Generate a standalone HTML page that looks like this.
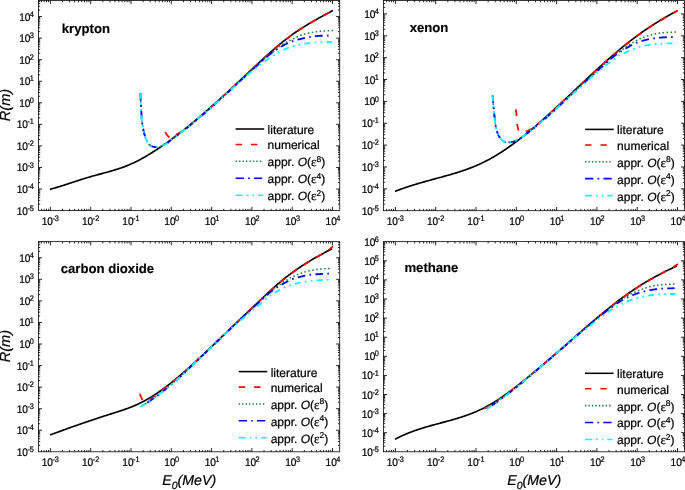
<!DOCTYPE html>
<html><head><meta charset="utf-8"><title>Range vs energy</title>
<style>
html,body{margin:0;padding:0;background:#fff;}
body{width:685px;height:490px;overflow:hidden;font-family:"Liberation Sans",sans-serif;}
svg{display:block;will-change:transform;}
text{font-family:"Liberation Sans",sans-serif;fill:#000;text-rendering:geometricPrecision;stroke:#000;stroke-width:0.22px;}
.tk{font-size:10.1px;}
.sp{font-size:7.3px;}
.tt{font-size:13.15px;font-weight:bold;stroke-width:0.15px;}
.lg{font-size:12px;}
.ls{font-size:8.5px;}
.it{font-style:italic;}
.ep{font-family:"Liberation Serif",serif;font-size:13px;}
.ax{font-size:14.2px;font-style:italic;}
.ay{font-size:14.6px;}
.sb{font-size:10.5px;}
.cv{fill:none;stroke-linecap:butt;stroke-linejoin:round;}
</style></head><body>
<svg width="685" height="490" viewBox="0 0 685 490">
<rect width="685" height="490" fill="#fff"/>
<g>
<g id="kr">
<path d="M41.46 210.60v-1.8M41.46 0.45v1.8M44.16 210.60v-1.8M44.16 0.45v1.8M46.49 210.60v-1.8M46.49 0.45v1.8M48.56 210.60v-1.8M48.56 0.45v1.8M50.40 210.60v-3.7M50.40 0.45v3.7M62.53 210.60v-1.8M62.53 0.45v1.8M69.63 210.60v-1.8M69.63 0.45v1.8M74.66 210.60v-1.8M74.66 0.45v1.8M78.57 210.60v-1.8M78.57 0.45v1.8M81.76 210.60v-1.8M81.76 0.45v1.8M84.46 210.60v-1.8M84.46 0.45v1.8M86.79 210.60v-1.8M86.79 0.45v1.8M88.86 210.60v-1.8M88.86 0.45v1.8M90.70 210.60v-3.7M90.70 0.45v3.7M102.83 210.60v-1.8M102.83 0.45v1.8M109.93 210.60v-1.8M109.93 0.45v1.8M114.96 210.60v-1.8M114.96 0.45v1.8M118.87 210.60v-1.8M118.87 0.45v1.8M122.06 210.60v-1.8M122.06 0.45v1.8M124.76 210.60v-1.8M124.76 0.45v1.8M127.09 210.60v-1.8M127.09 0.45v1.8M129.16 210.60v-1.8M129.16 0.45v1.8M131.00 210.60v-3.7M131.00 0.45v3.7M143.13 210.60v-1.8M143.13 0.45v1.8M150.23 210.60v-1.8M150.23 0.45v1.8M155.26 210.60v-1.8M155.26 0.45v1.8M159.17 210.60v-1.8M159.17 0.45v1.8M162.36 210.60v-1.8M162.36 0.45v1.8M165.06 210.60v-1.8M165.06 0.45v1.8M167.39 210.60v-1.8M167.39 0.45v1.8M169.46 210.60v-1.8M169.46 0.45v1.8M171.30 210.60v-3.7M171.30 0.45v3.7M183.43 210.60v-1.8M183.43 0.45v1.8M190.53 210.60v-1.8M190.53 0.45v1.8M195.56 210.60v-1.8M195.56 0.45v1.8M199.47 210.60v-1.8M199.47 0.45v1.8M202.66 210.60v-1.8M202.66 0.45v1.8M205.36 210.60v-1.8M205.36 0.45v1.8M207.69 210.60v-1.8M207.69 0.45v1.8M209.76 210.60v-1.8M209.76 0.45v1.8M211.60 210.60v-3.7M211.60 0.45v3.7M223.73 210.60v-1.8M223.73 0.45v1.8M230.83 210.60v-1.8M230.83 0.45v1.8M235.86 210.60v-1.8M235.86 0.45v1.8M239.77 210.60v-1.8M239.77 0.45v1.8M242.96 210.60v-1.8M242.96 0.45v1.8M245.66 210.60v-1.8M245.66 0.45v1.8M247.99 210.60v-1.8M247.99 0.45v1.8M250.06 210.60v-1.8M250.06 0.45v1.8M251.90 210.60v-3.7M251.90 0.45v3.7M264.03 210.60v-1.8M264.03 0.45v1.8M271.13 210.60v-1.8M271.13 0.45v1.8M276.16 210.60v-1.8M276.16 0.45v1.8M280.07 210.60v-1.8M280.07 0.45v1.8M283.26 210.60v-1.8M283.26 0.45v1.8M285.96 210.60v-1.8M285.96 0.45v1.8M288.29 210.60v-1.8M288.29 0.45v1.8M290.36 210.60v-1.8M290.36 0.45v1.8M292.20 210.60v-3.7M292.20 0.45v3.7M304.33 210.60v-1.8M304.33 0.45v1.8M311.43 210.60v-1.8M311.43 0.45v1.8M316.46 210.60v-1.8M316.46 0.45v1.8M320.37 210.60v-1.8M320.37 0.45v1.8M323.56 210.60v-1.8M323.56 0.45v1.8M326.26 210.60v-1.8M326.26 0.45v1.8M328.59 210.60v-1.8M328.59 0.45v1.8M330.66 210.60v-1.8M330.66 0.45v1.8M332.50 210.60v-3.7M332.50 0.45v3.7M38.40 204.11h1.8M339.75 204.11h-1.8M38.40 200.31h1.8M339.75 200.31h-1.8M38.40 197.62h1.8M339.75 197.62h-1.8M38.40 195.53h1.8M339.75 195.53h-1.8M38.40 193.82h1.8M339.75 193.82h-1.8M38.40 192.38h1.8M339.75 192.38h-1.8M38.40 191.13h1.8M339.75 191.13h-1.8M38.40 190.03h1.8M339.75 190.03h-1.8M38.40 189.04h3.6M339.75 189.04h-3.6M38.40 182.55h1.8M339.75 182.55h-1.8M38.40 178.75h1.8M339.75 178.75h-1.8M38.40 176.06h1.8M339.75 176.06h-1.8M38.40 173.97h1.8M339.75 173.97h-1.8M38.40 172.26h1.8M339.75 172.26h-1.8M38.40 170.82h1.8M339.75 170.82h-1.8M38.40 169.57h1.8M339.75 169.57h-1.8M38.40 168.47h1.8M339.75 168.47h-1.8M38.40 167.48h3.6M339.75 167.48h-3.6M38.40 160.99h1.8M339.75 160.99h-1.8M38.40 157.19h1.8M339.75 157.19h-1.8M38.40 154.50h1.8M339.75 154.50h-1.8M38.40 152.41h1.8M339.75 152.41h-1.8M38.40 150.70h1.8M339.75 150.70h-1.8M38.40 149.26h1.8M339.75 149.26h-1.8M38.40 148.01h1.8M339.75 148.01h-1.8M38.40 146.91h1.8M339.75 146.91h-1.8M38.40 145.92h3.6M339.75 145.92h-3.6M38.40 139.43h1.8M339.75 139.43h-1.8M38.40 135.63h1.8M339.75 135.63h-1.8M38.40 132.94h1.8M339.75 132.94h-1.8M38.40 130.85h1.8M339.75 130.85h-1.8M38.40 129.14h1.8M339.75 129.14h-1.8M38.40 127.70h1.8M339.75 127.70h-1.8M38.40 126.45h1.8M339.75 126.45h-1.8M38.40 125.35h1.8M339.75 125.35h-1.8M38.40 124.36h3.6M339.75 124.36h-3.6M38.40 117.87h1.8M339.75 117.87h-1.8M38.40 114.07h1.8M339.75 114.07h-1.8M38.40 111.38h1.8M339.75 111.38h-1.8M38.40 109.29h1.8M339.75 109.29h-1.8M38.40 107.58h1.8M339.75 107.58h-1.8M38.40 106.14h1.8M339.75 106.14h-1.8M38.40 104.89h1.8M339.75 104.89h-1.8M38.40 103.79h1.8M339.75 103.79h-1.8M38.40 102.80h3.6M339.75 102.80h-3.6M38.40 96.31h1.8M339.75 96.31h-1.8M38.40 92.51h1.8M339.75 92.51h-1.8M38.40 89.82h1.8M339.75 89.82h-1.8M38.40 87.73h1.8M339.75 87.73h-1.8M38.40 86.02h1.8M339.75 86.02h-1.8M38.40 84.58h1.8M339.75 84.58h-1.8M38.40 83.33h1.8M339.75 83.33h-1.8M38.40 82.23h1.8M339.75 82.23h-1.8M38.40 81.24h3.6M339.75 81.24h-3.6M38.40 74.75h1.8M339.75 74.75h-1.8M38.40 70.95h1.8M339.75 70.95h-1.8M38.40 68.26h1.8M339.75 68.26h-1.8M38.40 66.17h1.8M339.75 66.17h-1.8M38.40 64.46h1.8M339.75 64.46h-1.8M38.40 63.02h1.8M339.75 63.02h-1.8M38.40 61.77h1.8M339.75 61.77h-1.8M38.40 60.67h1.8M339.75 60.67h-1.8M38.40 59.68h3.6M339.75 59.68h-3.6M38.40 53.19h1.8M339.75 53.19h-1.8M38.40 49.39h1.8M339.75 49.39h-1.8M38.40 46.70h1.8M339.75 46.70h-1.8M38.40 44.61h1.8M339.75 44.61h-1.8M38.40 42.90h1.8M339.75 42.90h-1.8M38.40 41.46h1.8M339.75 41.46h-1.8M38.40 40.21h1.8M339.75 40.21h-1.8M38.40 39.11h1.8M339.75 39.11h-1.8M38.40 38.12h3.6M339.75 38.12h-3.6M38.40 31.63h1.8M339.75 31.63h-1.8M38.40 27.83h1.8M339.75 27.83h-1.8M38.40 25.14h1.8M339.75 25.14h-1.8M38.40 23.05h1.8M339.75 23.05h-1.8M38.40 21.34h1.8M339.75 21.34h-1.8M38.40 19.90h1.8M339.75 19.90h-1.8M38.40 18.65h1.8M339.75 18.65h-1.8M38.40 17.55h1.8M339.75 17.55h-1.8M38.40 16.56h3.6M339.75 16.56h-3.6M38.40 10.07h1.8M339.75 10.07h-1.8M38.40 6.27h1.8M339.75 6.27h-1.8M38.40 3.58h1.8M339.75 3.58h-1.8M38.40 1.49h1.8M339.75 1.49h-1.8" stroke="#000" stroke-width="0.85" fill="none"/>
<rect x="38.40" y="0.45" width="301.35" height="210.15" fill="none" stroke="#000" stroke-width="0.78"/>
<text transform="translate(50.30 225.05) scale(1 1.09)" text-anchor="middle" class="tk">10<tspan class="sp" dy="-3.55" dx="-0.5">-3</tspan></text>
<text transform="translate(90.60 225.05) scale(1 1.09)" text-anchor="middle" class="tk">10<tspan class="sp" dy="-3.55" dx="-0.5">-2</tspan></text>
<text transform="translate(130.90 225.05) scale(1 1.09)" text-anchor="middle" class="tk">10<tspan class="sp" dy="-3.55" dx="-0.5">-1</tspan></text>
<text transform="translate(171.70 225.05) scale(1 1.09)" text-anchor="middle" class="tk">10<tspan class="sp" dy="-3.55" dx="-0.6">0</tspan></text>
<text transform="translate(212.00 225.05) scale(1 1.09)" text-anchor="middle" class="tk">10<tspan class="sp" dy="-3.55" dx="-0.6">1</tspan></text>
<text transform="translate(252.30 225.05) scale(1 1.09)" text-anchor="middle" class="tk">10<tspan class="sp" dy="-3.55" dx="-0.6">2</tspan></text>
<text transform="translate(292.60 225.05) scale(1 1.09)" text-anchor="middle" class="tk">10<tspan class="sp" dy="-3.55" dx="-0.6">3</tspan></text>
<text transform="translate(332.90 225.05) scale(1 1.09)" text-anchor="middle" class="tk">10<tspan class="sp" dy="-3.55" dx="-0.6">4</tspan></text>
<text transform="translate(33.90 214.60) scale(1 1.09)" text-anchor="end" class="tk">10<tspan class="sp" dy="-3.55" dx="-0.5">-5</tspan></text>
<text transform="translate(33.90 193.04) scale(1 1.09)" text-anchor="end" class="tk">10<tspan class="sp" dy="-3.55" dx="-0.5">-4</tspan></text>
<text transform="translate(33.90 171.48) scale(1 1.09)" text-anchor="end" class="tk">10<tspan class="sp" dy="-3.55" dx="-0.5">-3</tspan></text>
<text transform="translate(33.90 149.92) scale(1 1.09)" text-anchor="end" class="tk">10<tspan class="sp" dy="-3.55" dx="-0.5">-2</tspan></text>
<text transform="translate(33.90 128.36) scale(1 1.09)" text-anchor="end" class="tk">10<tspan class="sp" dy="-3.55" dx="-0.5">-1</tspan></text>
<text transform="translate(33.90 106.80) scale(1 1.09)" text-anchor="end" class="tk">10<tspan class="sp" dy="-3.55" dx="-0.6">0</tspan></text>
<text transform="translate(33.90 85.24) scale(1 1.09)" text-anchor="end" class="tk">10<tspan class="sp" dy="-3.55" dx="-0.6">1</tspan></text>
<text transform="translate(33.90 63.68) scale(1 1.09)" text-anchor="end" class="tk">10<tspan class="sp" dy="-3.55" dx="-0.6">2</tspan></text>
<text transform="translate(33.90 42.12) scale(1 1.09)" text-anchor="end" class="tk">10<tspan class="sp" dy="-3.55" dx="-0.6">3</tspan></text>
<text transform="translate(33.90 20.56) scale(1 1.09)" text-anchor="end" class="tk">10<tspan class="sp" dy="-3.55" dx="-0.6">4</tspan></text>
<path d="M49.90 189.37L50.90 189.09L51.90 188.82L52.90 188.53L53.90 188.24L54.90 187.95L55.90 187.66L56.90 187.36L57.90 187.05L58.90 186.75L59.90 186.44L60.90 186.13L61.90 185.81L62.90 185.49L63.90 185.17L64.90 184.85L65.90 184.53L66.90 184.21L67.90 183.88L68.90 183.55L69.90 183.23L70.90 182.90L71.90 182.57L72.90 182.24L73.90 181.92L74.90 181.59L75.90 181.26L76.90 180.94L77.90 180.61L78.90 180.29L79.90 179.97L80.90 179.65L81.90 179.33L82.90 179.01L83.90 178.70L84.90 178.39L85.90 178.08L86.90 177.78L87.90 177.48L88.90 177.18L89.90 176.89L90.90 176.60L91.90 176.31L92.90 176.03L93.90 175.75L94.90 175.47L95.90 175.20L96.90 174.93L97.90 174.66L98.90 174.39L99.90 174.12L100.90 173.85L101.90 173.58L102.90 173.31L103.90 173.04L104.90 172.77L105.90 172.50L106.90 172.22L107.90 171.95L108.90 171.67L109.90 171.39L110.90 171.10L111.90 170.81L112.90 170.52L113.90 170.22L114.90 169.91L115.90 169.60L116.90 169.29L117.90 168.97L118.90 168.64L119.90 168.31L120.90 167.97L121.90 167.62L122.90 167.26L123.90 166.89L124.90 166.52L125.90 166.14L126.90 165.74L127.90 165.34L128.90 164.92L129.90 164.50L130.90 164.07L131.90 163.62L132.90 163.16L133.90 162.69L134.90 162.22L135.90 161.73L136.90 161.23L137.90 160.72L138.90 160.20L139.90 159.68L140.90 159.14L141.90 158.60L142.90 158.04L143.90 157.48L144.90 156.91L145.90 156.33L146.90 155.74L147.90 155.15L148.90 154.54L149.90 153.93L150.90 153.32L151.90 152.69L152.90 152.06L153.90 151.42L154.90 150.78L155.90 150.13L156.90 149.47L157.90 148.81L158.90 148.14L159.90 147.47L160.90 146.79L161.90 146.10L162.90 145.41L163.90 144.72L164.90 144.02L165.90 143.32L166.90 142.61L167.90 141.89L168.90 141.17L169.90 140.45L170.90 139.72L171.90 138.98L172.90 138.25L173.90 137.50L174.90 136.75L175.90 136.00L176.90 135.25L177.90 134.48L178.90 133.72L179.90 132.95L180.90 132.17L181.90 131.39L182.90 130.61L183.90 129.82L184.90 129.03L185.90 128.24L186.90 127.44L187.90 126.64L188.90 125.83L189.90 125.02L190.90 124.20L191.90 123.38L192.90 122.56L193.90 121.73L194.90 120.90L195.90 120.07L196.90 119.23L197.90 118.39L198.90 117.55L199.90 116.70L200.90 115.85L201.90 115.00L202.90 114.14L203.90 113.28L204.90 112.41L205.90 111.55L206.90 110.68L207.90 109.80L208.90 108.93L209.90 108.05L210.90 107.17L211.90 106.28L212.90 105.39L213.90 104.50L214.90 103.61L215.90 102.72L216.90 101.82L217.90 100.92L218.90 100.01L219.90 99.11L220.90 98.20L221.90 97.29L222.90 96.38L223.90 95.46L224.90 94.54L225.90 93.62L226.90 92.70L227.90 91.78L228.90 90.85L229.90 89.92L230.90 89.00L231.90 88.06L232.90 87.13L233.90 86.20L234.90 85.26L235.90 84.32L236.90 83.39L237.90 82.45L238.90 81.51L239.90 80.57L240.90 79.63L241.90 78.69L242.90 77.75L243.90 76.81L244.90 75.87L245.90 74.92L246.90 73.99L247.90 73.05L248.90 72.11L249.90 71.17L250.90 70.23L251.90 69.30L252.90 68.36L253.90 67.43L254.90 66.50L255.90 65.57L256.90 64.64L257.90 63.71L258.90 62.79L259.90 61.87L260.90 60.95L261.90 60.03L262.90 59.12L263.90 58.21L264.90 57.30L265.90 56.40L266.90 55.50L267.90 54.60L268.90 53.70L269.90 52.81L270.90 51.93L271.90 51.04L272.90 50.17L273.90 49.29L274.90 48.43L275.90 47.57L276.90 46.71L277.90 45.86L278.90 45.02L279.90 44.19L280.90 43.36L281.90 42.54L282.90 41.73L283.90 40.92L284.90 40.13L285.90 39.34L286.90 38.57L287.90 37.80L288.90 37.05L289.90 36.30L290.90 35.57L291.90 34.84L292.90 34.13L293.90 33.42L294.90 32.72L295.90 32.04L296.90 31.36L297.90 30.69L298.90 30.03L299.90 29.37L300.90 28.73L301.90 28.09L302.90 27.45L303.90 26.83L304.90 26.21L305.90 25.60L306.90 24.99L307.90 24.39L308.90 23.79L309.90 23.20L310.90 22.61L311.90 22.02L312.90 21.44L313.90 20.87L314.90 20.30L315.90 19.73L316.90 19.16L317.90 18.60L318.90 18.04L319.90 17.49L320.90 16.94L321.90 16.39L322.90 15.85L323.90 15.31L324.90 14.77L325.90 14.23L326.90 13.70L327.90 13.17L328.90 12.65L329.90 12.12L330.90 11.60L331.90 11.09L332.90 10.57" class="cv" stroke="#000000" stroke-width="1.65"/>
<path d="M165.30 132.10L165.65 132.78L166.03 133.43L166.44 134.05L166.87 134.66L167.32 135.24L167.79 135.80L168.27 136.34L168.77 136.87L169.29 137.45L169.86 138.03L170.47 138.30L171.13 138.17L171.84 137.85L172.52 137.49L173.13 137.11L173.72 136.67L174.30 136.19L174.88 135.73L175.48 135.31L176.10 134.90L176.71 134.50L177.34 134.10L177.96 133.71L178.59 133.33L179.22 132.95L179.86 132.58L180.51 132.22L181.16 131.87L181.80 131.50L182.41 131.10L182.99 130.65L183.57 130.19L184.15 129.73L184.72 129.27L185.30 128.82L186.30 128.02L187.30 127.22L188.30 126.41L189.30 125.60L190.30 124.79L191.30 123.97L192.30 123.15L193.30 122.33L194.30 121.50L195.30 120.67L196.30 119.84L197.30 119.00L198.30 118.16L199.30 117.31L200.30 116.46L201.30 115.61L202.30 114.75L203.30 113.89L204.30 113.03L205.30 112.17L206.30 111.30L207.30 110.43L208.30 109.55L209.30 108.68L210.30 107.80L211.30 106.91L212.30 106.03L213.30 105.14L214.30 104.25L215.30 103.35L216.30 102.46L217.30 101.56L218.30 100.66L219.30 99.75L220.30 98.84L221.30 97.94L222.30 97.02L223.30 96.11L224.30 95.19L225.30 94.28L226.30 93.36L227.30 92.43L228.30 91.51L229.30 90.58L230.30 89.65L231.30 88.72L232.30 87.79L233.30 86.86L234.30 85.92L235.30 84.99L236.30 84.05L237.30 83.11L238.30 82.17L239.30 81.23L240.30 80.29L241.30 79.35L242.30 78.41L243.30 77.47L244.30 76.53L245.30 75.59L246.30 74.65L247.30 73.71L248.30 72.77L249.30 71.83" class="cv" stroke="#ff0000" stroke-width="1.75" stroke-dasharray="6.8 7.8"/>
<path d="M333.00 10.62L332.07 11.10L331.15 11.57L330.22 12.06L329.30 12.54L328.30 13.06L327.30 13.59L326.30 14.12L325.30 14.66L324.30 15.19L323.30 15.73L322.30 16.27L321.30 16.82L320.30 17.37L319.30 17.92L318.30 18.48L317.30 19.04L316.30 19.60L315.30 20.17L314.30 20.74L313.30 21.31L312.30 21.89L311.30 22.47L310.30 23.06L309.30 23.65L308.30 24.25L307.30 24.85L306.30 25.45L305.30 26.06L304.30 26.68L303.30 27.30L302.30 27.93L301.30 28.57L300.30 29.21L299.30 29.86L298.30 30.52L297.30 31.19L296.30 31.87L295.30 32.55L294.30 33.24L293.30 33.94L292.30 34.65L291.30 35.37L290.30 36.11L289.30 36.85L288.30 37.60L287.30 38.36L286.30 39.13L285.30 39.91L284.30 40.71L283.30 41.50L282.30 42.31L281.30 43.13L280.30 43.95L279.30 44.79L278.30 45.62L277.30 46.47L276.30 47.32L275.30 48.18L274.30 49.05L273.30 49.92L272.30 50.79L271.30 51.67L270.30 52.56L269.30 53.45L268.30 54.34L267.30 55.24L266.30 56.14L265.30 57.04L264.30 57.95L263.30 58.86L262.30 59.77L261.30 60.68L260.30 61.60L259.30 62.52L258.30 63.45L257.30 64.37L256.30 65.30L255.30 66.23L254.30 67.16L253.30 68.09L252.30 69.02L251.30 69.96L250.30 70.89L249.30 71.83" class="cv" stroke="#ff0000" stroke-width="1.75" stroke-dasharray="6.8 7.8" stroke-dashoffset="10.0"/>
<path d="M140.40 93.10L140.43 93.81L140.45 94.52L140.48 95.23L140.51 95.94L140.54 96.65L140.57 97.36L140.60 98.07L140.63 98.77L140.66 99.48L140.69 100.19L140.72 100.90L140.76 101.61L140.79 102.32L140.83 103.03L140.86 103.74L140.90 104.45L140.93 105.15L140.97 105.86L141.01 106.57L141.05 107.28L141.10 107.99L141.14 108.70L141.18 109.41L141.23 110.12L141.27 110.82L141.31 111.53L141.36 112.24L141.40 112.95L141.44 113.66L141.47 114.37L141.51 115.08L141.54 115.79L141.58 116.50L141.61 117.21L141.65 117.91L141.70 118.62L141.75 119.33L141.80 120.04L141.87 120.74L141.95 121.44L142.05 122.15L142.15 122.85L142.27 123.55L142.38 124.25L142.50 124.95L142.62 125.65L142.74 126.35L142.87 127.05L142.99 127.75L143.13 128.45L143.27 129.15" class="cv" stroke="#1f7f3f" stroke-width="1.55" stroke-dasharray="1.55 2.45"/>
<path d="M143.27 129.15L143.41 129.84L143.55 130.54L143.71 131.23L143.86 131.92L144.02 132.61L144.19 133.31L144.36 134.00L144.54 134.69L144.72 135.37L144.92 136.05L145.13 136.72L145.36 137.40L145.60 138.07L145.85 138.74L146.12 139.40L146.40 140.05L146.70 140.69L147.01 141.32L147.34 141.97L147.70 142.61L148.08 143.24L148.49 143.82L148.94 144.34L149.42 144.80L149.98 145.24L150.59 145.65L151.24 146.01L151.89 146.30L152.55 146.50L153.23 146.70L153.93 146.87L154.64 147.00L155.35 147.08L156.05 147.10L156.76 147.07L157.48 147.02L158.19 146.94L158.89 146.86L159.58 146.75L160.26 146.57L160.92 146.32L161.58 146.02L162.23 145.71L162.88 145.41L163.52 145.11L164.17 144.80L164.80 144.48L165.43 144.14L166.05 143.79L166.65 143.42L167.24 143.04L167.82 142.64L168.39 142.23L168.96 141.79L169.51 141.34L170.05 140.88L170.58 140.40L171.19 139.83L171.81 139.37L172.43 138.91L173.05 138.46L173.67 138.01L174.30 137.57L174.92 137.12L175.54 136.67L176.16 136.21L176.77 135.74L177.39 135.28L178.00 134.82L179.00 134.05L180.00 133.29L181.00 132.52L182.00 131.74L183.00 130.96L184.00 130.18L185.00 129.39L186.00 128.60L187.00 127.80L188.00 127.01L189.00 126.20L190.00 125.39L191.00 124.58L192.00 123.77L193.00 122.95L194.00 122.13L195.00 121.30L196.00 120.47L197.00 119.64L198.00 118.80L199.00 117.96L200.00 117.12L201.00 116.27L202.00 115.42L203.00 114.57L204.00 113.71L205.00 112.85L206.00 111.99L207.00 111.12L208.00 110.26L209.00 109.38L210.00 108.51L211.00 107.63L212.00 106.75L213.00 105.87L214.00 104.99L215.00 104.10L216.00 103.20L217.00 102.31L218.00 101.41L219.00 100.51L220.00 99.61L221.00 98.70L222.00 97.79L223.00 96.88L224.00 95.97L225.00 95.05L226.00 94.13L227.00 93.21L228.00 92.29L229.00 91.36L230.00 90.43L231.00 89.50L232.00 88.57L233.00 87.64L234.00 86.70L235.00 85.77L236.00 84.83L237.00 83.89L238.00 82.95L239.00 82.01L240.00 81.07L241.00 80.13L242.00 79.19L243.00 78.25L244.00 77.31L245.00 76.37L246.00 75.43L247.00 74.49L248.00 73.55L249.00 72.61L250.00 71.68L251.00 70.75L252.00 69.82L253.00 68.90L254.00 67.98L255.00 67.07L256.00 66.17L257.00 65.27L258.00 64.38L259.00 63.49L260.00 62.60L261.00 61.72L262.00 60.85L263.00 59.98L264.00 59.12L265.00 58.28L266.00 57.44L267.00 56.62L268.00 55.81L269.00 55.02L270.00 54.26L271.00 53.54L272.00 52.86L273.00 52.18L274.00 51.46L275.00 50.68L276.00 49.83L277.00 48.94L278.00 48.05L279.00 47.18L280.00 46.32L281.00 45.50L282.00 44.74L283.00 44.06L284.00 43.46L285.00 42.91L286.00 42.38L287.00 41.86L288.00 41.35L289.00 40.85L290.00 40.35L291.00 39.87L292.00 39.38L293.00 38.89L294.00 38.40L295.00 37.92L296.00 37.44L297.00 36.97L298.00 36.51L299.00 36.06L300.00 35.64L301.00 35.23L302.00 34.86L303.00 34.50L304.00 34.18L305.00 33.88L306.00 33.60L307.00 33.36L308.00 33.14L309.00 32.94L310.00 32.76L311.00 32.59L312.00 32.42L313.00 32.25L314.00 32.07L315.00 31.90L316.00 31.75L317.00 31.61L318.00 31.50L319.00 31.41L320.00 31.32L321.00 31.24L322.00 31.16L323.00 31.08L324.00 31.02L325.00 30.96L326.00 30.91L327.00 30.86L328.00 30.81L329.00 30.76L330.00 30.71L331.00 30.66L332.00 30.57L333.00 30.37" class="cv" stroke="#1f7f3f" stroke-width="1.55" stroke-dasharray="1.55 2.45" stroke-dashoffset="0.13"/>
<path d="M140.40 93.10L140.43 93.81L140.45 94.52L140.48 95.23L140.51 95.94L140.54 96.65L140.57 97.36L140.60 98.07L140.63 98.77L140.66 99.48L140.69 100.19L140.72 100.90L140.76 101.61L140.79 102.32L140.83 103.03L140.86 103.74L140.90 104.45L140.93 105.15L140.97 105.86L141.01 106.57L141.05 107.28L141.10 107.99L141.14 108.70L141.18 109.41L141.23 110.12L141.27 110.82L141.31 111.53L141.36 112.24L141.40 112.95L141.44 113.66L141.47 114.37L141.51 115.08L141.54 115.79L141.58 116.50L141.61 117.21L141.65 117.91L141.70 118.62L141.75 119.33L141.80 120.04L141.87 120.74L141.95 121.44L142.05 122.15L142.15 122.85L142.27 123.55L142.38 124.25L142.50 124.95L142.62 125.65L142.74 126.35L142.87 127.05L142.99 127.75L143.13 128.45L143.27 129.15L143.41 129.84L143.55 130.54L143.71 131.23L143.86 131.92L144.02 132.61L144.19 133.31L144.36 134.00L144.54 134.69L144.72 135.37L144.92 136.05L145.13 136.72L145.36 137.40L145.60 138.07L145.85 138.74L146.12 139.40L146.40 140.05L146.70 140.69L147.01 141.32L147.34 141.97L147.70 142.61L148.08 143.24L148.49 143.82L148.94 144.34L149.42 144.80L149.98 145.24L150.59 145.65L151.24 146.01L151.89 146.30L152.55 146.50L153.23 146.70L153.93 146.87L154.64 147.00L155.35 147.08L156.05 147.10L156.76 147.07L157.48 147.02L158.19 146.94L158.89 146.86L159.58 146.75L160.26 146.57L160.92 146.32L161.58 146.02L162.23 145.71L162.88 145.41L163.52 145.11L164.17 144.80L164.80 144.48L165.43 144.14L166.05 143.79L166.65 143.42L167.24 143.04L167.82 142.64L168.39 142.23L168.96 141.79L169.51 141.34L170.05 140.88L170.58 140.40L171.19 139.83L171.81 139.37L172.43 138.91L173.05 138.46L173.67 138.01L174.30 137.57L174.92 137.12L175.54 136.67" class="cv" stroke="#0000ff" stroke-width="1.8" stroke-dasharray="7.7 4.3 1.6 4.3"/>
<path d="M175.54 136.67L176.16 136.21L176.77 135.74L177.39 135.28L178.00 134.82L179.00 134.05L180.00 133.29L181.00 132.52L182.00 131.74L183.00 130.96L184.00 130.18L185.00 129.39L186.00 128.60L187.00 127.80L188.00 127.01L189.00 126.20L190.00 125.39L191.00 124.58L192.00 123.77L193.00 122.95L194.00 122.13L195.00 121.30L196.00 120.47L197.00 119.64L198.00 118.80L199.00 117.96L200.00 117.12L201.00 116.27L202.00 115.42L203.00 114.56L204.00 113.71L205.00 112.85L206.00 111.98L207.00 111.12L208.00 110.25L209.00 109.38L210.00 108.50L211.00 107.62L212.00 106.74L213.00 105.86L214.00 104.97L215.00 104.08L216.00 103.19L217.00 102.29L218.00 101.40L219.00 100.50L220.00 99.60L221.00 98.69L222.00 97.78L223.00 96.88L224.00 95.96L225.00 95.05L226.00 94.14L227.00 93.22L228.00 92.30L229.00 91.38L230.00 90.45L231.00 89.53L232.00 88.60L233.00 87.67L234.00 86.74L235.00 85.81L236.00 84.87L237.00 83.94L238.00 83.01L239.00 82.07L240.00 81.14L241.00 80.20L242.00 79.27L243.00 78.34L244.00 77.40L245.00 76.47L246.00 75.55L247.00 74.62L248.00 73.71L249.00 72.79L250.00 71.89L251.00 70.98L252.00 70.08L253.00 69.19L254.00 68.30L255.00 67.42L256.00 66.55L257.00 65.70L258.00 64.86L259.00 64.03L260.00 63.18L261.00 62.31L262.00 61.42L263.00 60.50L264.00 59.55L265.00 58.60L266.00 57.65L267.00 56.71L268.00 55.80L269.00 54.94L270.00 54.14L271.00 53.40L272.00 52.71L273.00 52.04L274.00 51.38L275.00 50.72L276.00 50.06L277.00 49.39L278.00 48.73L279.00 48.09L280.00 47.45L281.00 46.83L282.00 46.23L283.00 45.65L284.00 45.09L285.00 44.55L286.00 44.04L287.00 43.56L288.00 43.10L289.00 42.65L290.00 42.23L291.00 41.82L292.00 41.44L293.00 41.08L294.00 40.73L295.00 40.41L296.00 40.11L297.00 39.82L298.00 39.55L299.00 39.28L300.00 39.02L301.00 38.78L302.00 38.53L303.00 38.30L304.00 38.08L305.00 37.86L306.00 37.66L307.00 37.46L308.00 37.28L309.00 37.10L310.00 36.94L311.00 36.78L312.00 36.64L313.00 36.50L314.00 36.38L315.00 36.26L316.00 36.15L317.00 36.05L318.00 35.96L319.00 35.88L320.00 35.82L321.00 35.77L322.00 35.73L323.00 35.70L324.00 35.67L325.00 35.65L326.00 35.63L327.00 35.62L328.00 35.59L329.00 35.57L330.00 35.55L331.00 35.47L332.00 35.29" class="cv" stroke="#0000ff" stroke-width="1.8" stroke-dasharray="7.7 4.3 1.6 4.3" stroke-dashoffset="4.41"/>
<path d="M140.40 93.10L140.43 93.81L140.45 94.52L140.48 95.23L140.51 95.94L140.54 96.65L140.57 97.36L140.60 98.07L140.63 98.77L140.66 99.48L140.69 100.19L140.72 100.90L140.76 101.61L140.79 102.32L140.83 103.03L140.86 103.74L140.90 104.45L140.93 105.15L140.97 105.86L141.01 106.57L141.05 107.28L141.10 107.99L141.14 108.70L141.18 109.41L141.23 110.12L141.27 110.82L141.31 111.53L141.36 112.24L141.40 112.95L141.44 113.66L141.47 114.37L141.51 115.08L141.54 115.79L141.58 116.50L141.61 117.21L141.65 117.91L141.70 118.62L141.75 119.33L141.80 120.04L141.87 120.74L141.95 121.44L142.05 122.15L142.15 122.85L142.27 123.55L142.38 124.25L142.50 124.95L142.62 125.65L142.74 126.35L142.87 127.05L142.99 127.75L143.13 128.45L143.27 129.15L143.41 129.84L143.55 130.54L143.71 131.23L143.86 131.92L144.02 132.61L144.19 133.31L144.36 134.00L144.54 134.69L144.72 135.37L144.92 136.05L145.13 136.72L145.36 137.40L145.60 138.07L145.85 138.74L146.12 139.40L146.40 140.05L146.70 140.69L147.01 141.32L147.34 141.97L147.70 142.61L148.08 143.24L148.49 143.82L148.94 144.34L149.42 144.80L149.98 145.24L150.59 145.65L151.24 146.01L151.89 146.30L152.55 146.50L153.23 146.70L153.93 146.87L154.64 147.00L155.35 147.08L156.05 147.10L156.76 147.07L157.48 147.02L158.19 146.94L158.89 146.86L159.58 146.75L160.26 146.57L160.92 146.32L161.58 146.02L162.23 145.71" class="cv" stroke="#00ffff" stroke-width="1.8" stroke-dasharray="6 4.3 1.6 4.3 1.6 4.3"/>
<path d="M162.23 145.71L162.88 145.41L163.52 145.11L164.17 144.80L164.80 144.48L165.43 144.14L166.05 143.79L166.65 143.42L167.24 143.04L167.82 142.64L168.39 142.23L168.96 141.79L169.51 141.34L170.05 140.88L170.58 140.40L171.19 139.83L171.81 139.37L172.43 138.91L173.05 138.46L173.67 138.01L174.30 137.57L174.92 137.12L175.54 136.67L176.16 136.21L176.77 135.74L177.39 135.28L178.00 134.82L179.00 134.05L180.00 133.29L181.00 132.52L182.00 131.74L183.00 130.96L184.00 130.18L185.00 129.39L186.00 128.60L187.00 127.80L188.00 127.01L189.00 126.20L190.00 125.39L191.00 124.58L192.00 123.77L193.00 122.95L194.00 122.13L195.00 121.30L196.00 120.47L197.00 119.64L198.00 118.80L199.00 117.96L200.00 117.12L201.00 116.27L202.00 115.42L203.00 114.56L204.00 113.71L205.00 112.85L206.00 111.98L207.00 111.11L208.00 110.24L209.00 109.37L210.00 108.49L211.00 107.61L212.00 106.73L213.00 105.85L214.00 104.96L215.00 104.07L216.00 103.18L217.00 102.28L218.00 101.39L219.00 100.49L220.00 99.59L221.00 98.68L222.00 97.78L223.00 96.87L224.00 95.96L225.00 95.05L226.00 94.14L227.00 93.23L228.00 92.32L229.00 91.42L230.00 90.51L231.00 89.60L232.00 88.70L233.00 87.79L234.00 86.89L235.00 85.98L236.00 85.08L237.00 84.18L238.00 83.28L239.00 82.38L240.00 81.48L241.00 80.58L242.00 79.69L243.00 78.81L244.00 77.93L245.00 77.06L246.00 76.20L247.00 75.34L248.00 74.49L249.00 73.65L250.00 72.83L251.00 72.02L252.00 71.23L253.00 70.45L254.00 69.68L255.00 68.91L256.00 68.16L257.00 67.42L258.00 66.68L259.00 65.93L260.00 65.18L261.00 64.41L262.00 63.63L263.00 62.85L264.00 62.06L265.00 61.29L266.00 60.53L267.00 59.80L268.00 59.09L269.00 58.41L270.00 57.74L271.00 57.09L272.00 56.44L273.00 55.79L274.00 55.13L275.00 54.47L276.00 53.82L277.00 53.18L278.00 52.57L279.00 52.00L280.00 51.47L281.00 50.97L282.00 50.51L283.00 50.08L284.00 49.66L285.00 49.24L286.00 48.83L287.00 48.43L288.00 48.03L289.00 47.63L290.00 47.25L291.00 46.89L292.00 46.55L293.00 46.23L294.00 45.94L295.00 45.67L296.00 45.43L297.00 45.20L298.00 44.99L299.00 44.78L300.00 44.58L301.00 44.38L302.00 44.19L303.00 44.01L304.00 43.84L305.00 43.68L306.00 43.52L307.00 43.38L308.00 43.25L309.00 43.13L310.00 43.03L311.00 42.93L312.00 42.84L313.00 42.75L314.00 42.68L315.00 42.62L316.00 42.56L317.00 42.52L318.00 42.48L319.00 42.45L320.00 42.43L321.00 42.40L322.00 42.37L323.00 42.34L324.00 42.31L325.00 42.28L326.00 42.26L327.00 42.24L328.00 42.22L329.00 42.21L330.00 42.20L331.00 42.14L332.00 41.97" class="cv" stroke="#00ffff" stroke-width="1.8" stroke-dasharray="6 4.3 1.6 4.3 1.6 4.3" stroke-dashoffset="21.99"/>
<text x="61.75" y="33.45" class="tt">krypton</text>
<path d="M235.60 129.00h28.6" stroke="#000000" stroke-width="1.55" fill="none"/>
<text x="267.60" y="133.90" class="lg">literature</text>
<path d="M235.60 144.50h27.2" stroke="#ff0000" stroke-width="1.55" fill="none" stroke-dasharray="6.4 9"/>
<text x="267.60" y="149.40" class="lg">numerical</text>
<path d="M235.60 161.30h27.2" stroke="#1f7f3f" stroke-width="1.55" fill="none" stroke-dasharray="1.4 2.05"/>
<text x="267.60" y="166.20" class="lg">appr. <tspan class="it">O</tspan>(<tspan class="ep">ε</tspan><tspan class="ls" dy="-4.4">8</tspan><tspan dy="4.4">)</tspan></text>
<path d="M235.60 178.20h27.2" stroke="#0000ff" stroke-width="1.55" fill="none" stroke-dasharray="8.3 4.2 1.6 4.2"/>
<text x="267.60" y="183.10" class="lg">appr. <tspan class="it">O</tspan>(<tspan class="ep">ε</tspan><tspan class="ls" dy="-4.4">4</tspan><tspan dy="4.4">)</tspan></text>
<path d="M235.60 195.20h27.6" stroke="#00ffff" stroke-width="1.55" fill="none" stroke-dasharray="7 4.1 1.6 4.1 1.6 4.1"/>
<text x="267.60" y="200.10" class="lg">appr. <tspan class="it">O</tspan>(<tspan class="ep">ε</tspan><tspan class="ls" dy="-4.4">2</tspan><tspan dy="4.4">)</tspan></text>
</g>
<g id="xe">
<path d="M386.46 210.70v-1.8M386.46 0.45v1.8M389.16 210.70v-1.8M389.16 0.45v1.8M391.49 210.70v-1.8M391.49 0.45v1.8M393.56 210.70v-1.8M393.56 0.45v1.8M395.40 210.70v-3.7M395.40 0.45v3.7M407.53 210.70v-1.8M407.53 0.45v1.8M414.63 210.70v-1.8M414.63 0.45v1.8M419.66 210.70v-1.8M419.66 0.45v1.8M423.57 210.70v-1.8M423.57 0.45v1.8M426.76 210.70v-1.8M426.76 0.45v1.8M429.46 210.70v-1.8M429.46 0.45v1.8M431.79 210.70v-1.8M431.79 0.45v1.8M433.86 210.70v-1.8M433.86 0.45v1.8M435.70 210.70v-3.7M435.70 0.45v3.7M447.83 210.70v-1.8M447.83 0.45v1.8M454.93 210.70v-1.8M454.93 0.45v1.8M459.96 210.70v-1.8M459.96 0.45v1.8M463.87 210.70v-1.8M463.87 0.45v1.8M467.06 210.70v-1.8M467.06 0.45v1.8M469.76 210.70v-1.8M469.76 0.45v1.8M472.09 210.70v-1.8M472.09 0.45v1.8M474.16 210.70v-1.8M474.16 0.45v1.8M476.00 210.70v-3.7M476.00 0.45v3.7M488.13 210.70v-1.8M488.13 0.45v1.8M495.23 210.70v-1.8M495.23 0.45v1.8M500.26 210.70v-1.8M500.26 0.45v1.8M504.17 210.70v-1.8M504.17 0.45v1.8M507.36 210.70v-1.8M507.36 0.45v1.8M510.06 210.70v-1.8M510.06 0.45v1.8M512.39 210.70v-1.8M512.39 0.45v1.8M514.46 210.70v-1.8M514.46 0.45v1.8M516.30 210.70v-3.7M516.30 0.45v3.7M528.43 210.70v-1.8M528.43 0.45v1.8M535.53 210.70v-1.8M535.53 0.45v1.8M540.56 210.70v-1.8M540.56 0.45v1.8M544.47 210.70v-1.8M544.47 0.45v1.8M547.66 210.70v-1.8M547.66 0.45v1.8M550.36 210.70v-1.8M550.36 0.45v1.8M552.69 210.70v-1.8M552.69 0.45v1.8M554.76 210.70v-1.8M554.76 0.45v1.8M556.60 210.70v-3.7M556.60 0.45v3.7M568.73 210.70v-1.8M568.73 0.45v1.8M575.83 210.70v-1.8M575.83 0.45v1.8M580.86 210.70v-1.8M580.86 0.45v1.8M584.77 210.70v-1.8M584.77 0.45v1.8M587.96 210.70v-1.8M587.96 0.45v1.8M590.66 210.70v-1.8M590.66 0.45v1.8M592.99 210.70v-1.8M592.99 0.45v1.8M595.06 210.70v-1.8M595.06 0.45v1.8M596.90 210.70v-3.7M596.90 0.45v3.7M609.03 210.70v-1.8M609.03 0.45v1.8M616.13 210.70v-1.8M616.13 0.45v1.8M621.16 210.70v-1.8M621.16 0.45v1.8M625.07 210.70v-1.8M625.07 0.45v1.8M628.26 210.70v-1.8M628.26 0.45v1.8M630.96 210.70v-1.8M630.96 0.45v1.8M633.29 210.70v-1.8M633.29 0.45v1.8M635.36 210.70v-1.8M635.36 0.45v1.8M637.20 210.70v-3.7M637.20 0.45v3.7M649.33 210.70v-1.8M649.33 0.45v1.8M656.43 210.70v-1.8M656.43 0.45v1.8M661.46 210.70v-1.8M661.46 0.45v1.8M665.37 210.70v-1.8M665.37 0.45v1.8M668.56 210.70v-1.8M668.56 0.45v1.8M671.26 210.70v-1.8M671.26 0.45v1.8M673.59 210.70v-1.8M673.59 0.45v1.8M675.66 210.70v-1.8M675.66 0.45v1.8M677.50 210.70v-3.7M677.50 0.45v3.7M383.40 204.12h1.8M684.60 204.12h-1.8M383.40 200.27h1.8M684.60 200.27h-1.8M383.40 197.54h1.8M684.60 197.54h-1.8M383.40 195.42h1.8M684.60 195.42h-1.8M383.40 193.69h1.8M684.60 193.69h-1.8M383.40 192.22h1.8M684.60 192.22h-1.8M383.40 190.95h1.8M684.60 190.95h-1.8M383.40 189.84h1.8M684.60 189.84h-1.8M383.40 188.83h3.6M684.60 188.83h-3.6M383.40 182.25h1.8M684.60 182.25h-1.8M383.40 178.40h1.8M684.60 178.40h-1.8M383.40 175.67h1.8M684.60 175.67h-1.8M383.40 173.55h1.8M684.60 173.55h-1.8M383.40 171.82h1.8M684.60 171.82h-1.8M383.40 170.36h1.8M684.60 170.36h-1.8M383.40 169.09h1.8M684.60 169.09h-1.8M383.40 167.97h1.8M684.60 167.97h-1.8M383.40 166.97h3.6M684.60 166.97h-3.6M383.40 160.39h1.8M684.60 160.39h-1.8M383.40 156.54h1.8M684.60 156.54h-1.8M383.40 153.81h1.8M684.60 153.81h-1.8M383.40 151.69h1.8M684.60 151.69h-1.8M383.40 149.96h1.8M684.60 149.96h-1.8M383.40 148.49h1.8M684.60 148.49h-1.8M383.40 147.22h1.8M684.60 147.22h-1.8M383.40 146.11h1.8M684.60 146.11h-1.8M383.40 145.10h3.6M684.60 145.10h-3.6M383.40 138.52h1.8M684.60 138.52h-1.8M383.40 134.67h1.8M684.60 134.67h-1.8M383.40 131.94h1.8M684.60 131.94h-1.8M383.40 129.82h1.8M684.60 129.82h-1.8M383.40 128.09h1.8M684.60 128.09h-1.8M383.40 126.63h1.8M684.60 126.63h-1.8M383.40 125.36h1.8M684.60 125.36h-1.8M383.40 124.24h1.8M684.60 124.24h-1.8M383.40 123.24h3.6M684.60 123.24h-3.6M383.40 116.66h1.8M684.60 116.66h-1.8M383.40 112.81h1.8M684.60 112.81h-1.8M383.40 110.08h1.8M684.60 110.08h-1.8M383.40 107.96h1.8M684.60 107.96h-1.8M383.40 106.23h1.8M684.60 106.23h-1.8M383.40 104.76h1.8M684.60 104.76h-1.8M383.40 103.49h1.8M684.60 103.49h-1.8M383.40 102.38h1.8M684.60 102.38h-1.8M383.40 101.38h3.6M684.60 101.38h-3.6M383.40 94.79h1.8M684.60 94.79h-1.8M383.40 90.94h1.8M684.60 90.94h-1.8M383.40 88.21h1.8M684.60 88.21h-1.8M383.40 86.09h1.8M684.60 86.09h-1.8M383.40 84.36h1.8M684.60 84.36h-1.8M383.40 82.90h1.8M684.60 82.90h-1.8M383.40 81.63h1.8M684.60 81.63h-1.8M383.40 80.51h1.8M684.60 80.51h-1.8M383.40 79.51h3.6M684.60 79.51h-3.6M383.40 72.93h1.8M684.60 72.93h-1.8M383.40 69.08h1.8M684.60 69.08h-1.8M383.40 66.35h1.8M684.60 66.35h-1.8M383.40 64.23h1.8M684.60 64.23h-1.8M383.40 62.50h1.8M684.60 62.50h-1.8M383.40 61.03h1.8M684.60 61.03h-1.8M383.40 59.76h1.8M684.60 59.76h-1.8M383.40 58.65h1.8M684.60 58.65h-1.8M383.40 57.65h3.6M684.60 57.65h-3.6M383.40 51.06h1.8M684.60 51.06h-1.8M383.40 47.21h1.8M684.60 47.21h-1.8M383.40 44.48h1.8M684.60 44.48h-1.8M383.40 42.36h1.8M684.60 42.36h-1.8M383.40 40.63h1.8M684.60 40.63h-1.8M383.40 39.17h1.8M684.60 39.17h-1.8M383.40 37.90h1.8M684.60 37.90h-1.8M383.40 36.78h1.8M684.60 36.78h-1.8M383.40 35.78h3.6M684.60 35.78h-3.6M383.40 29.20h1.8M684.60 29.20h-1.8M383.40 25.35h1.8M684.60 25.35h-1.8M383.40 22.62h1.8M684.60 22.62h-1.8M383.40 20.50h1.8M684.60 20.50h-1.8M383.40 18.77h1.8M684.60 18.77h-1.8M383.40 17.30h1.8M684.60 17.30h-1.8M383.40 16.03h1.8M684.60 16.03h-1.8M383.40 14.92h1.8M684.60 14.92h-1.8M383.40 13.91h3.6M684.60 13.91h-3.6M383.40 7.33h1.8M684.60 7.33h-1.8M383.40 3.48h1.8M684.60 3.48h-1.8" stroke="#000" stroke-width="0.85" fill="none"/>
<rect x="383.40" y="0.45" width="301.20" height="210.25" fill="none" stroke="#000" stroke-width="0.78"/>
<text transform="translate(395.30 225.15) scale(1 1.09)" text-anchor="middle" class="tk">10<tspan class="sp" dy="-3.55" dx="-0.5">-3</tspan></text>
<text transform="translate(435.60 225.15) scale(1 1.09)" text-anchor="middle" class="tk">10<tspan class="sp" dy="-3.55" dx="-0.5">-2</tspan></text>
<text transform="translate(475.90 225.15) scale(1 1.09)" text-anchor="middle" class="tk">10<tspan class="sp" dy="-3.55" dx="-0.5">-1</tspan></text>
<text transform="translate(516.70 225.15) scale(1 1.09)" text-anchor="middle" class="tk">10<tspan class="sp" dy="-3.55" dx="-0.6">0</tspan></text>
<text transform="translate(557.00 225.15) scale(1 1.09)" text-anchor="middle" class="tk">10<tspan class="sp" dy="-3.55" dx="-0.6">1</tspan></text>
<text transform="translate(597.30 225.15) scale(1 1.09)" text-anchor="middle" class="tk">10<tspan class="sp" dy="-3.55" dx="-0.6">2</tspan></text>
<text transform="translate(637.60 225.15) scale(1 1.09)" text-anchor="middle" class="tk">10<tspan class="sp" dy="-3.55" dx="-0.6">3</tspan></text>
<text transform="translate(677.90 225.15) scale(1 1.09)" text-anchor="middle" class="tk">10<tspan class="sp" dy="-3.55" dx="-0.6">4</tspan></text>
<text transform="translate(378.90 214.70) scale(1 1.09)" text-anchor="end" class="tk">10<tspan class="sp" dy="-3.55" dx="-0.5">-5</tspan></text>
<text transform="translate(378.90 192.83) scale(1 1.09)" text-anchor="end" class="tk">10<tspan class="sp" dy="-3.55" dx="-0.5">-4</tspan></text>
<text transform="translate(378.90 170.97) scale(1 1.09)" text-anchor="end" class="tk">10<tspan class="sp" dy="-3.55" dx="-0.5">-3</tspan></text>
<text transform="translate(378.90 149.10) scale(1 1.09)" text-anchor="end" class="tk">10<tspan class="sp" dy="-3.55" dx="-0.5">-2</tspan></text>
<text transform="translate(378.90 127.24) scale(1 1.09)" text-anchor="end" class="tk">10<tspan class="sp" dy="-3.55" dx="-0.5">-1</tspan></text>
<text transform="translate(378.90 105.38) scale(1 1.09)" text-anchor="end" class="tk">10<tspan class="sp" dy="-3.55" dx="-0.6">0</tspan></text>
<text transform="translate(378.90 83.51) scale(1 1.09)" text-anchor="end" class="tk">10<tspan class="sp" dy="-3.55" dx="-0.6">1</tspan></text>
<text transform="translate(378.90 61.65) scale(1 1.09)" text-anchor="end" class="tk">10<tspan class="sp" dy="-3.55" dx="-0.6">2</tspan></text>
<text transform="translate(378.90 39.78) scale(1 1.09)" text-anchor="end" class="tk">10<tspan class="sp" dy="-3.55" dx="-0.6">3</tspan></text>
<text transform="translate(378.90 17.91) scale(1 1.09)" text-anchor="end" class="tk">10<tspan class="sp" dy="-3.55" dx="-0.6">4</tspan></text>
<path d="M395.00 191.39L396.00 191.00L397.00 190.61L398.00 190.23L399.00 189.86L400.00 189.49L401.00 189.13L402.00 188.77L403.00 188.41L404.00 188.06L405.00 187.72L406.00 187.38L407.00 187.04L408.00 186.71L409.00 186.38L410.00 186.06L411.00 185.74L412.00 185.43L413.00 185.11L414.00 184.81L415.00 184.50L416.00 184.20L417.00 183.90L418.00 183.60L419.00 183.31L420.00 183.01L421.00 182.73L422.00 182.44L423.00 182.15L424.00 181.87L425.00 181.59L426.00 181.31L427.00 181.03L428.00 180.75L429.00 180.48L430.00 180.20L431.00 179.93L432.00 179.65L433.00 179.38L434.00 179.11L435.00 178.84L436.00 178.56L437.00 178.29L438.00 178.02L439.00 177.75L440.00 177.47L441.00 177.20L442.00 176.93L443.00 176.65L444.00 176.37L445.00 176.10L446.00 175.82L447.00 175.54L448.00 175.25L449.00 174.97L450.00 174.68L451.00 174.39L452.00 174.10L453.00 173.80L454.00 173.51L455.00 173.20L456.00 172.90L457.00 172.59L458.00 172.28L459.00 171.96L460.00 171.64L461.00 171.31L462.00 170.98L463.00 170.64L464.00 170.30L465.00 169.96L466.00 169.60L467.00 169.24L468.00 168.88L469.00 168.51L470.00 168.13L471.00 167.75L472.00 167.36L473.00 166.96L474.00 166.56L475.00 166.15L476.00 165.73L477.00 165.30L478.00 164.86L479.00 164.42L480.00 163.97L481.00 163.51L482.00 163.04L483.00 162.56L484.00 162.07L485.00 161.57L486.00 161.06L487.00 160.55L488.00 160.02L489.00 159.49L490.00 158.94L491.00 158.39L492.00 157.82L493.00 157.25L494.00 156.67L495.00 156.08L496.00 155.48L497.00 154.87L498.00 154.26L499.00 153.63L500.00 153.00L501.00 152.36L502.00 151.71L503.00 151.06L504.00 150.39L505.00 149.72L506.00 149.04L507.00 148.35L508.00 147.66L509.00 146.96L510.00 146.25L511.00 145.54L512.00 144.81L513.00 144.08L514.00 143.35L515.00 142.61L516.00 141.86L517.00 141.10L518.00 140.34L519.00 139.57L520.00 138.80L521.00 138.02L522.00 137.23L523.00 136.44L524.00 135.64L525.00 134.84L526.00 134.03L527.00 133.22L528.00 132.40L529.00 131.57L530.00 130.75L531.00 129.91L532.00 129.07L533.00 128.23L534.00 127.38L535.00 126.53L536.00 125.67L537.00 124.81L538.00 123.95L539.00 123.08L540.00 122.20L541.00 121.33L542.00 120.45L543.00 119.56L544.00 118.67L545.00 117.78L546.00 116.89L547.00 115.99L548.00 115.09L549.00 114.19L550.00 113.28L551.00 112.37L552.00 111.46L553.00 110.54L554.00 109.63L555.00 108.71L556.00 107.79L557.00 106.86L558.00 105.94L559.00 105.01L560.00 104.08L561.00 103.15L562.00 102.22L563.00 101.28L564.00 100.35L565.00 99.41L566.00 98.47L567.00 97.53L568.00 96.59L569.00 95.65L570.00 94.71L571.00 93.77L572.00 92.82L573.00 91.88L574.00 90.94L575.00 89.99L576.00 89.05L577.00 88.11L578.00 87.17L579.00 86.22L580.00 85.28L581.00 84.34L582.00 83.40L583.00 82.46L584.00 81.52L585.00 80.58L586.00 79.64L587.00 78.70L588.00 77.77L589.00 76.83L590.00 75.90L591.00 74.97L592.00 74.04L593.00 73.12L594.00 72.19L595.00 71.27L596.00 70.35L597.00 69.43L598.00 68.51L599.00 67.60L600.00 66.69L601.00 65.78L602.00 64.87L603.00 63.97L604.00 63.07L605.00 62.18L606.00 61.28L607.00 60.39L608.00 59.51L609.00 58.62L610.00 57.75L611.00 56.87L612.00 56.00L613.00 55.13L614.00 54.27L615.00 53.41L616.00 52.56L617.00 51.71L618.00 50.86L619.00 50.02L620.00 49.19L621.00 48.36L622.00 47.53L623.00 46.71L624.00 45.90L625.00 45.09L626.00 44.28L627.00 43.49L628.00 42.69L629.00 41.91L630.00 41.13L631.00 40.35L632.00 39.58L633.00 38.82L634.00 38.06L635.00 37.32L636.00 36.57L637.00 35.84L638.00 35.11L639.00 34.38L640.00 33.66L641.00 32.95L642.00 32.25L643.00 31.55L644.00 30.86L645.00 30.17L646.00 29.49L647.00 28.81L648.00 28.14L649.00 27.47L650.00 26.82L651.00 26.16L652.00 25.51L653.00 24.87L654.00 24.23L655.00 23.60L656.00 22.97L657.00 22.35L658.00 21.73L659.00 21.12L660.00 20.51L661.00 19.90L662.00 19.30L663.00 18.71L664.00 18.12L665.00 17.53L666.00 16.95L667.00 16.37L668.00 15.80L669.00 15.23L670.00 14.67L671.00 14.11L672.00 13.55L673.00 12.99L674.00 12.44L675.00 11.90L676.00 11.36L677.00 10.82" class="cv" stroke="#000000" stroke-width="1.65"/>
<path d="M515.80 109.40L515.91 110.12L516.02 110.83L516.12 111.55L516.22 112.26L516.32 112.98L516.40 113.70L516.48 114.42L516.56 115.13L516.62 115.85L516.68 116.57L516.72 117.30L516.76 118.02L516.80 118.74L516.84 119.47L516.88 120.19L516.92 120.91L516.96 121.63L517.02 122.35L517.08 123.07L517.15 123.79L517.24 124.51L517.34 125.24L517.46 125.96L517.59 126.68L517.74 127.40L517.90 128.10L518.09 128.79L518.29 129.46L518.54 130.18L518.87 130.93L519.28 131.54L519.75 131.87L520.40 132.08L521.16 132.23L521.93 132.30L522.64 132.26L523.35 132.14L524.06 131.96L524.77 131.75L525.46 131.54L526.14 131.33L526.82 131.09L527.49 130.82L528.15 130.53L528.81 130.23L529.47 129.91L530.12 129.58L530.77 129.26L531.42 128.94L532.07 128.62L532.73 128.30L533.37 127.96L533.98 127.59L534.57 127.17L535.11 126.69L535.66 126.22L536.20 125.75L536.75 125.28L537.30 124.80L538.30 123.94L539.30 123.07L540.30 122.19L541.30 121.31L542.30 120.43L543.30 119.55L544.30 118.66L545.30 117.77L546.30 116.87L547.30 115.97L548.30 115.07L549.30 114.16L550.30 113.26L551.30 112.35L552.30 111.43L553.30 110.52L554.30 109.60L555.30 108.68L556.30 107.76L557.30 106.83L558.30 105.91L559.30 104.98L560.30 104.05L561.30 103.12L562.30 102.18L563.30 101.25L564.30 100.31L565.30 99.38L566.30 98.44L567.30 97.50L568.30 96.56L569.30 95.62L570.30 94.68L571.30 93.73L572.30 92.79L573.30 91.85L574.30 90.91L575.30 89.96L576.30 89.02L577.30 88.08L578.30 87.13L579.30 86.19L580.30 85.25L581.30 84.31L582.30 83.36L583.30 82.42L584.30 81.48L585.30 80.55L586.30 79.61L587.30 78.67L588.30 77.74L589.30 76.80L590.30 75.87L591.30 74.94L592.30 74.01L593.30 73.09L594.30 72.16" class="cv" stroke="#ff0000" stroke-width="1.75" stroke-dasharray="6.8 7.8"/>
<path d="M677.90 10.58L677.00 11.07L676.10 11.55L675.20 12.04L674.30 12.53L673.30 13.08L672.30 13.63L671.30 14.19L670.30 14.75L669.30 15.31L668.30 15.88L667.30 16.45L666.30 17.03L665.30 17.61L664.30 18.19L663.30 18.78L662.30 19.38L661.30 19.97L660.30 20.58L659.30 21.18L658.30 21.79L657.30 22.41L656.30 23.03L655.30 23.66L654.30 24.29L653.30 24.93L652.30 25.57L651.30 26.22L650.30 26.87L649.30 27.53L648.30 28.19L647.30 28.86L646.30 29.53L645.30 30.21L644.30 30.90L643.30 31.59L642.30 32.29L641.30 32.99L640.30 33.70L639.30 34.42L638.30 35.14L637.30 35.87L636.30 36.60L635.30 37.34L634.30 38.09L633.30 38.84L632.30 39.60L631.30 40.37L630.30 41.14L629.30 41.92L628.30 42.71L627.30 43.50L626.30 44.29L625.30 45.10L624.30 45.90L623.30 46.72L622.30 47.54L621.30 48.36L620.30 49.19L619.30 50.02L618.30 50.86L617.30 51.70L616.30 52.55L615.30 53.41L614.30 54.26L613.30 55.12L612.30 55.99L611.30 56.86L610.30 57.73L609.30 58.61L608.30 59.49L607.30 60.38L606.30 61.27L605.30 62.16L604.30 63.05L603.30 63.95L602.30 64.85L601.30 65.76L600.30 66.66L599.30 67.58L598.30 68.49L597.30 69.40L596.30 70.32L595.30 71.24L594.30 72.16" class="cv" stroke="#ff0000" stroke-width="1.75" stroke-dasharray="6.8 7.8" stroke-dashoffset="1.2"/>
<path d="M492.60 95.50L492.65 96.21L492.70 96.92L492.75 97.63L492.80 98.34L492.85 99.06L492.91 99.77L492.96 100.48L493.02 101.19L493.08 101.90L493.14 102.61L493.20 103.32L493.26 104.03L493.32 104.74L493.39 105.45L493.45 106.16L493.52 106.87L493.59 107.58L493.66 108.29L493.73 108.99L493.81 109.70L493.88 110.41L493.96 111.12L494.03 111.83L494.11 112.54L494.19 113.25L494.26 113.96L494.34 114.67L494.41 115.37L494.48 116.08L494.55 116.79L494.62 117.51L494.70 118.22L494.77 118.93L494.84 119.64L494.92 120.34L495.00 121.05L495.08 121.76L495.17 122.47L495.27 123.17L495.37 123.88L495.47 124.58L495.59 125.28L495.72 125.99L495.85 126.69L495.99 127.39L496.14 128.09L496.30 128.79L496.47 129.48L496.65 130.17L496.84 130.86L497.04 131.53" class="cv" stroke="#1f7f3f" stroke-width="1.55" stroke-dasharray="1.55 2.45"/>
<path d="M497.04 131.53L497.26 132.21L497.49 132.89L497.75 133.57L498.02 134.24L498.32 134.90L498.63 135.55L498.96 136.18L499.31 136.78L499.67 137.37L500.08 137.95L500.52 138.53L501.00 139.10L501.51 139.63L502.04 140.12L502.58 140.55L503.15 140.94L503.76 141.33L504.40 141.72L505.06 142.06L505.75 142.33L506.43 142.48L507.11 142.50L507.81 142.47L508.52 142.42L509.24 142.35L509.97 142.26L510.68 142.16L511.39 142.05L512.08 141.93L512.76 141.77L513.44 141.56L514.11 141.31L514.78 141.03L515.44 140.74L516.10 140.43L516.75 140.12L517.38 139.81L518.01 139.50L518.64 139.17L519.26 138.83L519.87 138.47L520.48 138.10L521.09 137.71L521.68 137.32L522.27 136.91L522.85 136.48L523.43 136.05L524.16 135.49L524.76 135.07L525.35 134.65L525.94 134.23L526.53 133.80L527.12 133.36L527.70 132.92L528.29 132.48L528.87 132.04L529.44 131.60L530.02 131.15L530.59 130.70L531.17 130.25L531.74 129.79L532.31 129.34L532.87 128.87L533.44 128.41L534.00 127.95L535.00 127.13L536.00 126.31L537.00 125.48L538.00 124.65L539.00 123.81L540.00 122.97L541.00 122.12L542.00 121.27L543.00 120.41L544.00 119.55L545.00 118.68L546.00 117.81L547.00 116.94L548.00 116.07L549.00 115.19L550.00 114.31L551.00 113.43L552.00 112.54L553.00 111.65L554.00 110.75L555.00 109.85L556.00 108.95L557.00 108.04L558.00 107.12L559.00 106.20L560.00 105.28L561.00 104.34L562.00 103.40L563.00 102.46L564.00 101.51L565.00 100.56L566.00 99.61L567.00 98.65L568.00 97.70L569.00 96.76L570.00 95.81L571.00 94.87L572.00 93.93L573.00 92.99L574.00 92.04L575.00 91.10L576.00 90.16L577.00 89.22L578.00 88.29L579.00 87.35L580.00 86.41L581.00 85.48L582.00 84.54L583.00 83.61L584.00 82.67L585.00 81.74L586.00 80.81L587.00 79.88L588.00 78.95L589.00 78.03L590.00 77.10L591.00 76.18L592.00 75.26L593.00 74.34L594.00 73.43L595.00 72.52L596.00 71.61L597.00 70.70L598.00 69.80L599.00 68.90L600.00 68.00L601.00 67.11L602.00 66.22L603.00 65.34L604.00 64.45L605.00 63.58L606.00 62.71L607.00 61.84L608.00 60.98L609.00 60.13L610.00 59.28L611.00 58.44L612.00 57.60L613.00 56.76L614.00 55.92L615.00 55.09L616.00 54.27L617.00 53.46L618.00 52.67L619.00 51.93L620.00 51.23L621.00 50.56L622.00 49.90L623.00 49.24L624.00 48.56L625.00 47.87L626.00 47.17L627.00 46.46L628.00 45.75L629.00 45.06L630.00 44.39L631.00 43.75L632.00 43.13L633.00 42.52L634.00 41.92L635.00 41.33L636.00 40.78L637.00 40.27L638.00 39.80L639.00 39.35L640.00 38.89L641.00 38.43L642.00 37.97L643.00 37.53L644.00 37.13L645.00 36.77L646.00 36.44L647.00 36.12L648.00 35.81L649.00 35.51L650.00 35.22L651.00 34.94L652.00 34.67L653.00 34.41L654.00 34.17L655.00 33.94L656.00 33.72L657.00 33.52L658.00 33.34L659.00 33.17L660.00 33.03L661.00 32.91L662.00 32.81L663.00 32.72L664.00 32.63L665.00 32.55L666.00 32.48L667.00 32.41L668.00 32.36L669.00 32.31L670.00 32.26L671.00 32.21L672.00 32.16L673.00 32.11L674.00 32.06L675.00 32.02L676.00 31.92L677.00 31.72" class="cv" stroke="#1f7f3f" stroke-width="1.55" stroke-dasharray="1.55 2.45" stroke-dashoffset="2.75"/>
<path d="M492.60 95.50L492.65 96.21L492.70 96.92L492.75 97.63L492.80 98.34L492.85 99.06L492.91 99.77L492.96 100.48L493.02 101.19L493.08 101.90L493.14 102.61L493.20 103.32L493.26 104.03L493.32 104.74L493.39 105.45L493.45 106.16L493.52 106.87L493.59 107.58L493.66 108.29L493.73 108.99L493.81 109.70L493.88 110.41L493.96 111.12L494.03 111.83L494.11 112.54L494.19 113.25L494.26 113.96L494.34 114.67L494.41 115.37L494.48 116.08L494.55 116.79L494.62 117.51L494.70 118.22L494.77 118.93L494.84 119.64L494.92 120.34L495.00 121.05L495.08 121.76L495.17 122.47L495.27 123.17L495.37 123.88L495.47 124.58L495.59 125.28L495.72 125.99L495.85 126.69L495.99 127.39L496.14 128.09L496.30 128.79L496.47 129.48L496.65 130.17L496.84 130.86L497.04 131.53L497.26 132.21L497.49 132.89L497.75 133.57L498.02 134.24L498.32 134.90L498.63 135.55L498.96 136.18L499.31 136.78L499.67 137.37L500.08 137.95L500.52 138.53L501.00 139.10L501.51 139.63L502.04 140.12L502.58 140.55L503.15 140.94L503.76 141.33L504.40 141.72L505.06 142.06L505.75 142.33L506.43 142.48L507.11 142.50L507.81 142.47L508.52 142.42L509.24 142.35L509.97 142.26L510.68 142.16L511.39 142.05L512.08 141.93L512.76 141.77L513.44 141.56L514.11 141.31L514.78 141.03L515.44 140.74L516.10 140.43L516.75 140.12L517.38 139.81L518.01 139.50L518.64 139.17L519.26 138.83L519.87 138.47L520.48 138.10L521.09 137.71L521.68 137.32L522.27 136.91L522.85 136.48L523.43 136.05L524.16 135.49L524.76 135.07L525.35 134.65L525.94 134.23L526.53 133.80L527.12 133.36L527.70 132.92L528.29 132.48L528.87 132.04L529.44 131.60L530.02 131.15L530.59 130.70L531.17 130.25L531.74 129.79L532.31 129.34L532.87 128.87L533.44 128.41" class="cv" stroke="#0000ff" stroke-width="1.8" stroke-dasharray="7.7 4.3 1.6 4.3"/>
<path d="M533.44 128.41L534.00 127.95L535.00 127.13L536.00 126.31L537.00 125.48L538.00 124.65L539.00 123.81L540.00 122.97L541.00 122.12L542.00 121.27L543.00 120.41L544.00 119.55L545.00 118.68L546.00 117.81L547.00 116.94L548.00 116.07L549.00 115.19L550.00 114.31L551.00 113.43L552.00 112.54L553.00 111.65L554.00 110.75L555.00 109.85L556.00 108.95L557.00 108.04L558.00 107.12L559.00 106.20L560.00 105.28L561.00 104.35L562.00 103.42L563.00 102.48L564.00 101.55L565.00 100.61L566.00 99.67L567.00 98.73L568.00 97.79L569.00 96.85L570.00 95.91L571.00 94.97L572.00 94.03L573.00 93.09L574.00 92.16L575.00 91.23L576.00 90.30L577.00 89.37L578.00 88.44L579.00 87.51L580.00 86.59L581.00 85.66L582.00 84.74L583.00 83.82L584.00 82.90L585.00 81.98L586.00 81.07L587.00 80.16L588.00 79.25L589.00 78.36L590.00 77.46L591.00 76.57L592.00 75.69L593.00 74.80L594.00 73.92L595.00 73.03L596.00 72.15L597.00 71.26L598.00 70.37L599.00 69.48L600.00 68.58L601.00 67.69L602.00 66.79L603.00 65.89L604.00 65.00L605.00 64.11L606.00 63.22L607.00 62.33L608.00 61.45L609.00 60.57L610.00 59.70L611.00 58.83L612.00 57.97L613.00 57.13L614.00 56.32L615.00 55.55L616.00 54.80L617.00 54.09L618.00 53.39L619.00 52.71L620.00 52.04L621.00 51.38L622.00 50.74L623.00 50.11L624.00 49.51L625.00 48.92L626.00 48.33L627.00 47.76L628.00 47.18L629.00 46.61L630.00 46.05L631.00 45.49L632.00 44.95L633.00 44.42L634.00 43.92L635.00 43.44L636.00 42.99L637.00 42.57L638.00 42.18L639.00 41.83L640.00 41.50L641.00 41.19L642.00 40.90L643.00 40.63L644.00 40.36L645.00 40.10L646.00 39.86L647.00 39.63L648.00 39.41L649.00 39.21L650.00 39.02L651.00 38.84L652.00 38.68L653.00 38.52L654.00 38.37L655.00 38.23L656.00 38.09L657.00 37.97L658.00 37.86L659.00 37.76L660.00 37.66L661.00 37.57L662.00 37.49L663.00 37.42L664.00 37.35L665.00 37.28L666.00 37.23L667.00 37.18L668.00 37.13L669.00 37.10L670.00 37.06L671.00 37.03L672.00 37.01L673.00 36.99L674.00 36.97L675.00 36.96L676.00 36.89L677.00 36.71" class="cv" stroke="#0000ff" stroke-width="1.8" stroke-dasharray="7.7 4.3 1.6 4.3" stroke-dashoffset="3.43"/>
<path d="M492.60 95.50L492.65 96.21L492.70 96.92L492.75 97.63L492.80 98.34L492.85 99.06L492.91 99.77L492.96 100.48L493.02 101.19L493.08 101.90L493.14 102.61L493.20 103.32L493.26 104.03L493.32 104.74L493.39 105.45L493.45 106.16L493.52 106.87L493.59 107.58L493.66 108.29L493.73 108.99L493.81 109.70L493.88 110.41L493.96 111.12L494.03 111.83L494.11 112.54L494.19 113.25L494.26 113.96L494.34 114.67L494.41 115.37L494.48 116.08L494.55 116.79L494.62 117.51L494.70 118.22L494.77 118.93L494.84 119.64L494.92 120.34L495.00 121.05L495.08 121.76L495.17 122.47L495.27 123.17L495.37 123.88L495.47 124.58L495.59 125.28L495.72 125.99L495.85 126.69L495.99 127.39L496.14 128.09L496.30 128.79L496.47 129.48L496.65 130.17L496.84 130.86L497.04 131.53L497.26 132.21L497.49 132.89L497.75 133.57L498.02 134.24L498.32 134.90L498.63 135.55L498.96 136.18L499.31 136.78L499.67 137.37L500.08 137.95L500.52 138.53L501.00 139.10L501.51 139.63L502.04 140.12L502.58 140.55L503.15 140.94L503.76 141.33L504.40 141.72L505.06 142.06L505.75 142.33L506.43 142.48L507.11 142.50L507.81 142.47L508.52 142.42L509.24 142.35L509.97 142.26L510.68 142.16L511.39 142.05L512.08 141.93L512.76 141.77L513.44 141.56L514.11 141.31L514.78 141.03L515.44 140.74L516.10 140.43L516.75 140.12L517.38 139.81L518.01 139.50L518.64 139.17L519.26 138.83L519.87 138.47L520.48 138.10" class="cv" stroke="#00ffff" stroke-width="1.8" stroke-dasharray="6 4.3 1.6 4.3 1.6 4.3"/>
<path d="M520.48 138.10L521.09 137.71L521.68 137.32L522.27 136.91L522.85 136.48L523.43 136.05L524.16 135.49L524.76 135.07L525.35 134.65L525.94 134.23L526.53 133.80L527.12 133.36L527.70 132.92L528.29 132.48L528.87 132.04L529.44 131.60L530.02 131.15L530.59 130.70L531.17 130.25L531.74 129.79L532.31 129.34L532.87 128.87L533.44 128.41L534.00 127.95L535.00 127.13L536.00 126.31L537.00 125.48L538.00 124.65L539.00 123.81L540.00 122.97L541.00 122.12L542.00 121.27L543.00 120.41L544.00 119.55L545.00 118.68L546.00 117.81L547.00 116.94L548.00 116.06L549.00 115.17L550.00 114.28L551.00 113.39L552.00 112.50L553.00 111.60L554.00 110.70L555.00 109.80L556.00 108.90L557.00 108.00L558.00 107.09L559.00 106.19L560.00 105.28L561.00 104.37L562.00 103.46L563.00 102.55L564.00 101.64L565.00 100.73L566.00 99.83L567.00 98.92L568.00 98.01L569.00 97.11L570.00 96.22L571.00 95.33L572.00 94.46L573.00 93.60L574.00 92.75L575.00 91.91L576.00 91.06L577.00 90.21L578.00 89.35L579.00 88.48L580.00 87.60L581.00 86.71L582.00 85.81L583.00 84.91L584.00 84.01L585.00 83.10L586.00 82.19L587.00 81.28L588.00 80.37L589.00 79.47L590.00 78.57L591.00 77.68L592.00 76.80L593.00 75.95L594.00 75.10L595.00 74.27L596.00 73.44L597.00 72.60L598.00 71.77L599.00 70.95L600.00 70.13L601.00 69.30L602.00 68.49L603.00 67.67L604.00 66.86L605.00 66.05L606.00 65.26L607.00 64.48L608.00 63.72L609.00 62.97L610.00 62.25L611.00 61.53L612.00 60.81L613.00 60.10L614.00 59.37L615.00 58.64L616.00 57.90L617.00 57.17L618.00 56.47L619.00 55.80L620.00 55.18L621.00 54.62L622.00 54.09L623.00 53.60L624.00 53.13L625.00 52.68L626.00 52.22L627.00 51.77L628.00 51.33L629.00 50.89L630.00 50.47L631.00 50.06L632.00 49.66L633.00 49.27L634.00 48.89L635.00 48.51L636.00 48.14L637.00 47.79L638.00 47.45L639.00 47.13L640.00 46.84L641.00 46.57L642.00 46.32L643.00 46.09L644.00 45.87L645.00 45.67L646.00 45.48L647.00 45.29L648.00 45.11L649.00 44.95L650.00 44.79L651.00 44.64L652.00 44.50L653.00 44.38L654.00 44.26L655.00 44.15L656.00 44.06L657.00 43.99L658.00 43.92L659.00 43.86L660.00 43.81L661.00 43.76L662.00 43.70L663.00 43.64L664.00 43.57L665.00 43.51L666.00 43.46L667.00 43.40L668.00 43.36L669.00 43.32L670.00 43.28L671.00 43.26L672.00 43.23L673.00 43.22L674.00 43.20L675.00 43.20L676.00 43.14L677.00 42.96" class="cv" stroke="#00ffff" stroke-width="1.8" stroke-dasharray="6 4.3 1.6 4.3 1.6 4.3" stroke-dashoffset="20.77"/>
<text x="409.70" y="31.60" class="tt">xenon</text>
<path d="M585.10 129.40h28.6" stroke="#000000" stroke-width="1.55" fill="none"/>
<text x="617.10" y="134.30" class="lg">literature</text>
<path d="M585.10 144.90h27.2" stroke="#ff0000" stroke-width="1.55" fill="none" stroke-dasharray="6.4 9"/>
<text x="617.10" y="149.80" class="lg">numerical</text>
<path d="M585.10 161.70h27.2" stroke="#1f7f3f" stroke-width="1.55" fill="none" stroke-dasharray="1.4 2.05"/>
<text x="617.10" y="166.60" class="lg">appr. <tspan class="it">O</tspan>(<tspan class="ep">ε</tspan><tspan class="ls" dy="-4.4">8</tspan><tspan dy="4.4">)</tspan></text>
<path d="M585.10 178.60h27.2" stroke="#0000ff" stroke-width="1.55" fill="none" stroke-dasharray="8.3 4.2 1.6 4.2"/>
<text x="617.10" y="183.50" class="lg">appr. <tspan class="it">O</tspan>(<tspan class="ep">ε</tspan><tspan class="ls" dy="-4.4">4</tspan><tspan dy="4.4">)</tspan></text>
<path d="M585.10 195.60h27.6" stroke="#00ffff" stroke-width="1.55" fill="none" stroke-dasharray="7 4.1 1.6 4.1 1.6 4.1"/>
<text x="617.10" y="200.50" class="lg">appr. <tspan class="it">O</tspan>(<tspan class="ep">ε</tspan><tspan class="ls" dy="-4.4">2</tspan><tspan dy="4.4">)</tspan></text>
</g>
<g id="co">
<path d="M41.46 451.80v-1.8M41.46 241.65v1.8M44.16 451.80v-1.8M44.16 241.65v1.8M46.49 451.80v-1.8M46.49 241.65v1.8M48.56 451.80v-1.8M48.56 241.65v1.8M50.40 451.80v-3.7M50.40 241.65v3.7M62.53 451.80v-1.8M62.53 241.65v1.8M69.63 451.80v-1.8M69.63 241.65v1.8M74.66 451.80v-1.8M74.66 241.65v1.8M78.57 451.80v-1.8M78.57 241.65v1.8M81.76 451.80v-1.8M81.76 241.65v1.8M84.46 451.80v-1.8M84.46 241.65v1.8M86.79 451.80v-1.8M86.79 241.65v1.8M88.86 451.80v-1.8M88.86 241.65v1.8M90.70 451.80v-3.7M90.70 241.65v3.7M102.83 451.80v-1.8M102.83 241.65v1.8M109.93 451.80v-1.8M109.93 241.65v1.8M114.96 451.80v-1.8M114.96 241.65v1.8M118.87 451.80v-1.8M118.87 241.65v1.8M122.06 451.80v-1.8M122.06 241.65v1.8M124.76 451.80v-1.8M124.76 241.65v1.8M127.09 451.80v-1.8M127.09 241.65v1.8M129.16 451.80v-1.8M129.16 241.65v1.8M131.00 451.80v-3.7M131.00 241.65v3.7M143.13 451.80v-1.8M143.13 241.65v1.8M150.23 451.80v-1.8M150.23 241.65v1.8M155.26 451.80v-1.8M155.26 241.65v1.8M159.17 451.80v-1.8M159.17 241.65v1.8M162.36 451.80v-1.8M162.36 241.65v1.8M165.06 451.80v-1.8M165.06 241.65v1.8M167.39 451.80v-1.8M167.39 241.65v1.8M169.46 451.80v-1.8M169.46 241.65v1.8M171.30 451.80v-3.7M171.30 241.65v3.7M183.43 451.80v-1.8M183.43 241.65v1.8M190.53 451.80v-1.8M190.53 241.65v1.8M195.56 451.80v-1.8M195.56 241.65v1.8M199.47 451.80v-1.8M199.47 241.65v1.8M202.66 451.80v-1.8M202.66 241.65v1.8M205.36 451.80v-1.8M205.36 241.65v1.8M207.69 451.80v-1.8M207.69 241.65v1.8M209.76 451.80v-1.8M209.76 241.65v1.8M211.60 451.80v-3.7M211.60 241.65v3.7M223.73 451.80v-1.8M223.73 241.65v1.8M230.83 451.80v-1.8M230.83 241.65v1.8M235.86 451.80v-1.8M235.86 241.65v1.8M239.77 451.80v-1.8M239.77 241.65v1.8M242.96 451.80v-1.8M242.96 241.65v1.8M245.66 451.80v-1.8M245.66 241.65v1.8M247.99 451.80v-1.8M247.99 241.65v1.8M250.06 451.80v-1.8M250.06 241.65v1.8M251.90 451.80v-3.7M251.90 241.65v3.7M264.03 451.80v-1.8M264.03 241.65v1.8M271.13 451.80v-1.8M271.13 241.65v1.8M276.16 451.80v-1.8M276.16 241.65v1.8M280.07 451.80v-1.8M280.07 241.65v1.8M283.26 451.80v-1.8M283.26 241.65v1.8M285.96 451.80v-1.8M285.96 241.65v1.8M288.29 451.80v-1.8M288.29 241.65v1.8M290.36 451.80v-1.8M290.36 241.65v1.8M292.20 451.80v-3.7M292.20 241.65v3.7M304.33 451.80v-1.8M304.33 241.65v1.8M311.43 451.80v-1.8M311.43 241.65v1.8M316.46 451.80v-1.8M316.46 241.65v1.8M320.37 451.80v-1.8M320.37 241.65v1.8M323.56 451.80v-1.8M323.56 241.65v1.8M326.26 451.80v-1.8M326.26 241.65v1.8M328.59 451.80v-1.8M328.59 241.65v1.8M330.66 451.80v-1.8M330.66 241.65v1.8M332.50 451.80v-3.7M332.50 241.65v3.7M38.40 445.31h1.8M339.75 445.31h-1.8M38.40 441.51h1.8M339.75 441.51h-1.8M38.40 438.82h1.8M339.75 438.82h-1.8M38.40 436.73h1.8M339.75 436.73h-1.8M38.40 435.02h1.8M339.75 435.02h-1.8M38.40 433.58h1.8M339.75 433.58h-1.8M38.40 432.33h1.8M339.75 432.33h-1.8M38.40 431.23h1.8M339.75 431.23h-1.8M38.40 430.24h3.6M339.75 430.24h-3.6M38.40 423.75h1.8M339.75 423.75h-1.8M38.40 419.95h1.8M339.75 419.95h-1.8M38.40 417.26h1.8M339.75 417.26h-1.8M38.40 415.17h1.8M339.75 415.17h-1.8M38.40 413.46h1.8M339.75 413.46h-1.8M38.40 412.02h1.8M339.75 412.02h-1.8M38.40 410.77h1.8M339.75 410.77h-1.8M38.40 409.67h1.8M339.75 409.67h-1.8M38.40 408.68h3.6M339.75 408.68h-3.6M38.40 402.19h1.8M339.75 402.19h-1.8M38.40 398.39h1.8M339.75 398.39h-1.8M38.40 395.70h1.8M339.75 395.70h-1.8M38.40 393.61h1.8M339.75 393.61h-1.8M38.40 391.90h1.8M339.75 391.90h-1.8M38.40 390.46h1.8M339.75 390.46h-1.8M38.40 389.21h1.8M339.75 389.21h-1.8M38.40 388.11h1.8M339.75 388.11h-1.8M38.40 387.12h3.6M339.75 387.12h-3.6M38.40 380.63h1.8M339.75 380.63h-1.8M38.40 376.83h1.8M339.75 376.83h-1.8M38.40 374.14h1.8M339.75 374.14h-1.8M38.40 372.05h1.8M339.75 372.05h-1.8M38.40 370.34h1.8M339.75 370.34h-1.8M38.40 368.90h1.8M339.75 368.90h-1.8M38.40 367.65h1.8M339.75 367.65h-1.8M38.40 366.55h1.8M339.75 366.55h-1.8M38.40 365.56h3.6M339.75 365.56h-3.6M38.40 359.07h1.8M339.75 359.07h-1.8M38.40 355.27h1.8M339.75 355.27h-1.8M38.40 352.58h1.8M339.75 352.58h-1.8M38.40 350.49h1.8M339.75 350.49h-1.8M38.40 348.78h1.8M339.75 348.78h-1.8M38.40 347.34h1.8M339.75 347.34h-1.8M38.40 346.09h1.8M339.75 346.09h-1.8M38.40 344.99h1.8M339.75 344.99h-1.8M38.40 344.00h3.6M339.75 344.00h-3.6M38.40 337.51h1.8M339.75 337.51h-1.8M38.40 333.71h1.8M339.75 333.71h-1.8M38.40 331.02h1.8M339.75 331.02h-1.8M38.40 328.93h1.8M339.75 328.93h-1.8M38.40 327.22h1.8M339.75 327.22h-1.8M38.40 325.78h1.8M339.75 325.78h-1.8M38.40 324.53h1.8M339.75 324.53h-1.8M38.40 323.43h1.8M339.75 323.43h-1.8M38.40 322.44h3.6M339.75 322.44h-3.6M38.40 315.95h1.8M339.75 315.95h-1.8M38.40 312.15h1.8M339.75 312.15h-1.8M38.40 309.46h1.8M339.75 309.46h-1.8M38.40 307.37h1.8M339.75 307.37h-1.8M38.40 305.66h1.8M339.75 305.66h-1.8M38.40 304.22h1.8M339.75 304.22h-1.8M38.40 302.97h1.8M339.75 302.97h-1.8M38.40 301.87h1.8M339.75 301.87h-1.8M38.40 300.88h3.6M339.75 300.88h-3.6M38.40 294.39h1.8M339.75 294.39h-1.8M38.40 290.59h1.8M339.75 290.59h-1.8M38.40 287.90h1.8M339.75 287.90h-1.8M38.40 285.81h1.8M339.75 285.81h-1.8M38.40 284.10h1.8M339.75 284.10h-1.8M38.40 282.66h1.8M339.75 282.66h-1.8M38.40 281.41h1.8M339.75 281.41h-1.8M38.40 280.31h1.8M339.75 280.31h-1.8M38.40 279.32h3.6M339.75 279.32h-3.6M38.40 272.83h1.8M339.75 272.83h-1.8M38.40 269.03h1.8M339.75 269.03h-1.8M38.40 266.34h1.8M339.75 266.34h-1.8M38.40 264.25h1.8M339.75 264.25h-1.8M38.40 262.54h1.8M339.75 262.54h-1.8M38.40 261.10h1.8M339.75 261.10h-1.8M38.40 259.85h1.8M339.75 259.85h-1.8M38.40 258.75h1.8M339.75 258.75h-1.8M38.40 257.76h3.6M339.75 257.76h-3.6M38.40 251.27h1.8M339.75 251.27h-1.8M38.40 247.47h1.8M339.75 247.47h-1.8M38.40 244.78h1.8M339.75 244.78h-1.8M38.40 242.69h1.8M339.75 242.69h-1.8" stroke="#000" stroke-width="0.85" fill="none"/>
<rect x="38.40" y="241.65" width="301.35" height="210.15" fill="none" stroke="#000" stroke-width="0.78"/>
<text transform="translate(50.30 466.25) scale(1 1.09)" text-anchor="middle" class="tk">10<tspan class="sp" dy="-3.55" dx="-0.5">-3</tspan></text>
<text transform="translate(90.60 466.25) scale(1 1.09)" text-anchor="middle" class="tk">10<tspan class="sp" dy="-3.55" dx="-0.5">-2</tspan></text>
<text transform="translate(130.90 466.25) scale(1 1.09)" text-anchor="middle" class="tk">10<tspan class="sp" dy="-3.55" dx="-0.5">-1</tspan></text>
<text transform="translate(171.70 466.25) scale(1 1.09)" text-anchor="middle" class="tk">10<tspan class="sp" dy="-3.55" dx="-0.6">0</tspan></text>
<text transform="translate(212.00 466.25) scale(1 1.09)" text-anchor="middle" class="tk">10<tspan class="sp" dy="-3.55" dx="-0.6">1</tspan></text>
<text transform="translate(252.30 466.25) scale(1 1.09)" text-anchor="middle" class="tk">10<tspan class="sp" dy="-3.55" dx="-0.6">2</tspan></text>
<text transform="translate(292.60 466.25) scale(1 1.09)" text-anchor="middle" class="tk">10<tspan class="sp" dy="-3.55" dx="-0.6">3</tspan></text>
<text transform="translate(332.90 466.25) scale(1 1.09)" text-anchor="middle" class="tk">10<tspan class="sp" dy="-3.55" dx="-0.6">4</tspan></text>
<text transform="translate(33.90 455.80) scale(1 1.09)" text-anchor="end" class="tk">10<tspan class="sp" dy="-3.55" dx="-0.5">-5</tspan></text>
<text transform="translate(33.90 434.24) scale(1 1.09)" text-anchor="end" class="tk">10<tspan class="sp" dy="-3.55" dx="-0.5">-4</tspan></text>
<text transform="translate(33.90 412.68) scale(1 1.09)" text-anchor="end" class="tk">10<tspan class="sp" dy="-3.55" dx="-0.5">-3</tspan></text>
<text transform="translate(33.90 391.12) scale(1 1.09)" text-anchor="end" class="tk">10<tspan class="sp" dy="-3.55" dx="-0.5">-2</tspan></text>
<text transform="translate(33.90 369.56) scale(1 1.09)" text-anchor="end" class="tk">10<tspan class="sp" dy="-3.55" dx="-0.5">-1</tspan></text>
<text transform="translate(33.90 348.00) scale(1 1.09)" text-anchor="end" class="tk">10<tspan class="sp" dy="-3.55" dx="-0.6">0</tspan></text>
<text transform="translate(33.90 326.44) scale(1 1.09)" text-anchor="end" class="tk">10<tspan class="sp" dy="-3.55" dx="-0.6">1</tspan></text>
<text transform="translate(33.90 304.88) scale(1 1.09)" text-anchor="end" class="tk">10<tspan class="sp" dy="-3.55" dx="-0.6">2</tspan></text>
<text transform="translate(33.90 283.32) scale(1 1.09)" text-anchor="end" class="tk">10<tspan class="sp" dy="-3.55" dx="-0.6">3</tspan></text>
<text transform="translate(33.90 261.76) scale(1 1.09)" text-anchor="end" class="tk">10<tspan class="sp" dy="-3.55" dx="-0.6">4</tspan></text>
<path d="M50.20 434.96L51.20 434.58L52.20 434.21L53.20 433.83L54.20 433.46L55.20 433.09L56.20 432.72L57.20 432.35L58.20 431.98L59.20 431.61L60.20 431.24L61.20 430.88L62.20 430.51L63.20 430.15L64.20 429.79L65.20 429.42L66.20 429.06L67.20 428.70L68.20 428.34L69.20 427.99L70.20 427.63L71.20 427.27L72.20 426.92L73.20 426.57L74.20 426.21L75.20 425.86L76.20 425.51L77.20 425.16L78.20 424.81L79.20 424.46L80.20 424.12L81.20 423.77L82.20 423.43L83.20 423.08L84.20 422.74L85.20 422.40L86.20 422.06L87.20 421.72L88.20 421.38L89.20 421.04L90.20 420.70L91.20 420.37L92.20 420.03L93.20 419.70L94.20 419.36L95.20 419.03L96.20 418.70L97.20 418.37L98.20 418.04L99.20 417.71L100.20 417.38L101.20 417.06L102.20 416.73L103.20 416.41L104.20 416.08L105.20 415.76L106.20 415.44L107.20 415.12L108.20 414.80L109.20 414.48L110.20 414.16L111.20 413.84L112.20 413.52L113.20 413.21L114.20 412.89L115.20 412.57L116.20 412.25L117.20 411.93L118.20 411.61L119.20 411.29L120.20 410.96L121.20 410.63L122.20 410.29L123.20 409.95L124.20 409.61L125.20 409.26L126.20 408.90L127.20 408.54L128.20 408.17L129.20 407.80L130.20 407.41L131.20 407.02L132.20 406.62L133.20 406.22L134.20 405.80L135.20 405.37L136.20 404.93L137.20 404.48L138.20 404.02L139.20 403.55L140.20 403.07L141.20 402.57L142.20 402.06L143.20 401.54L144.20 401.01L145.20 400.47L146.20 399.92L147.20 399.35L148.20 398.77L149.20 398.18L150.20 397.59L151.20 396.98L152.20 396.36L153.20 395.73L154.20 395.09L155.20 394.44L156.20 393.78L157.20 393.11L158.20 392.43L159.20 391.74L160.20 391.04L161.20 390.33L162.20 389.62L163.20 388.89L164.20 388.16L165.20 387.42L166.20 386.67L167.20 385.91L168.20 385.14L169.20 384.37L170.20 383.59L171.20 382.80L172.20 382.00L173.20 381.20L174.20 380.39L175.20 379.57L176.20 378.75L177.20 377.92L178.20 377.08L179.20 376.24L180.20 375.39L181.20 374.53L182.20 373.67L183.20 372.81L184.20 371.94L185.20 371.06L186.20 370.18L187.20 369.29L188.20 368.40L189.20 367.50L190.20 366.60L191.20 365.70L192.20 364.79L193.20 363.88L194.20 362.96L195.20 362.04L196.20 361.12L197.20 360.19L198.20 359.26L199.20 358.33L200.20 357.39L201.20 356.45L202.20 355.51L203.20 354.57L204.20 353.63L205.20 352.68L206.20 351.73L207.20 350.78L208.20 349.83L209.20 348.88L210.20 347.92L211.20 346.97L212.20 346.01L213.20 345.05L214.20 344.10L215.20 343.14L216.20 342.18L217.20 341.23L218.20 340.27L219.20 339.31L220.20 338.35L221.20 337.40L222.20 336.44L223.20 335.48L224.20 334.53L225.20 333.57L226.20 332.62L227.20 331.66L228.20 330.70L229.20 329.75L230.20 328.79L231.20 327.84L232.20 326.88L233.20 325.93L234.20 324.97L235.20 324.02L236.20 323.06L237.20 322.11L238.20 321.15L239.20 320.20L240.20 319.24L241.20 318.29L242.20 317.34L243.20 316.38L244.20 315.43L245.20 314.48L246.20 313.52L247.20 312.57L248.20 311.62L249.20 310.66L250.20 309.71L251.20 308.76L252.20 307.81L253.20 306.86L254.20 305.90L255.20 304.95L256.20 304.00L257.20 303.05L258.20 302.10L259.20 301.15L260.20 300.20L261.20 299.25L262.20 298.30L263.20 297.36L264.20 296.42L265.20 295.48L266.20 294.54L267.20 293.61L268.20 292.68L269.20 291.76L270.20 290.84L271.20 289.93L272.20 289.02L273.20 288.12L274.20 287.23L275.20 286.34L276.20 285.47L277.20 284.59L278.20 283.73L279.20 282.88L280.20 282.03L281.20 281.20L282.20 280.37L283.20 279.56L284.20 278.75L285.20 277.95L286.20 277.17L287.20 276.39L288.20 275.62L289.20 274.86L290.20 274.11L291.20 273.37L292.20 272.64L293.20 271.91L294.20 271.19L295.20 270.49L296.20 269.79L297.20 269.09L298.20 268.41L299.20 267.73L300.20 267.06L301.20 266.40L302.20 265.75L303.20 265.10L304.20 264.46L305.20 263.82L306.20 263.19L307.20 262.57L308.20 261.96L309.20 261.35L310.20 260.75L311.20 260.15L312.20 259.56L313.20 258.97L314.20 258.40L315.20 257.82L316.20 257.25L317.20 256.69L318.20 256.13L319.20 255.57L320.20 255.02L321.20 254.48L322.20 253.94L323.20 253.40L324.20 252.87L325.20 252.34L326.20 251.82L327.20 251.29L328.20 250.78L329.20 250.26L330.20 249.75L331.20 249.24L332.20 248.74" class="cv" stroke="#000000" stroke-width="1.65"/>
<path d="M139.90 393.80L140.12 394.49L140.36 395.17L140.63 395.84L140.90 396.50L141.20 397.16L141.50 397.80L141.82 398.44L142.14 399.08L142.47 399.80L142.84 400.47L143.29 400.84L143.95 401.04L144.71 401.17L145.43 401.19L146.10 401.08L146.77 400.87L147.44 400.58L148.09 400.23L148.74 399.85L149.38 399.46L150.02 399.10L150.65 398.76L151.27 398.40L151.88 398.03L152.48 397.64L153.08 397.24L153.68 396.83L154.27 396.42L154.85 396.01L155.43 395.60L156.01 395.17L156.59 394.74L157.16 394.31L157.72 393.86L158.28 393.42L158.84 392.97L159.39 392.51L159.94 392.05L160.48 391.58L161.00 391.08L161.52 390.58L162.04 390.09L162.57 389.60L163.12 389.15L163.70 388.73L164.28 388.30L164.85 387.88L165.43 387.45L166.00 387.02L167.00 386.26L168.00 385.50L169.00 384.73L170.00 383.95L171.00 383.16L172.00 382.36L173.00 381.56L174.00 380.75L175.00 379.94L176.00 379.11L177.00 378.28L178.00 377.45L179.00 376.61L180.00 375.76L181.00 374.91L182.00 374.05L183.00 373.18L184.00 372.31L185.00 371.44L186.00 370.55L187.00 369.67L188.00 368.78L189.00 367.88L190.00 366.98L191.00 366.08L192.00 365.17L193.00 364.26L194.00 363.34L195.00 362.42L196.00 361.50L197.00 360.58L198.00 359.65L199.00 358.71L200.00 357.78L201.00 356.84L202.00 355.90L203.00 354.96L204.00 354.01L205.00 353.07L206.00 352.12L207.00 351.17L208.00 350.22L209.00 349.27L210.00 348.31L211.00 347.36L212.00 346.40L213.00 345.45L214.00 344.49L215.00 343.53L216.00 342.57L217.00 341.62L218.00 340.66L219.00 339.70L220.00 338.75L221.00 337.79L222.00 336.83L223.00 335.88L224.00 334.92L225.00 333.96L226.00 333.01L227.00 332.05L228.00 331.09L229.00 330.14L230.00 329.18L231.00 328.23L232.00 327.27L233.00 326.32L234.00 325.36L235.00 324.41L236.00 323.45L237.00 322.50L238.00 321.54L239.00 320.59L240.00 319.63L241.00 318.68L242.00 317.73L243.00 316.77L244.00 315.82L245.00 314.87L246.00 313.91L247.00 312.96L248.00 312.01L249.00 311.05L250.00 310.10" class="cv" stroke="#ff0000" stroke-width="1.75" stroke-dasharray="6.8 7.8"/>
<path d="M333.00 246.40L332.42 246.93L331.84 247.44L331.24 247.93L330.63 248.42L330.02 248.89L329.38 249.33L328.72 249.75L328.06 250.17L327.42 250.60L326.80 251.06L326.22 251.59L325.66 252.13L325.05 252.61L324.38 252.98L323.69 253.34L323.00 253.71L322.00 254.25L321.00 254.79L320.00 255.33L319.00 255.88L318.00 256.44L317.00 257.00L316.00 257.56L315.00 258.14L314.00 258.71L313.00 259.29L312.00 259.88L311.00 260.47L310.00 261.07L309.00 261.67L308.00 262.28L307.00 262.90L306.00 263.52L305.00 264.15L304.00 264.78L303.00 265.43L302.00 266.08L301.00 266.73L300.00 267.40L299.00 268.07L298.00 268.75L297.00 269.43L296.00 270.13L295.00 270.83L294.00 271.54L293.00 272.26L292.00 272.98L291.00 273.72L290.00 274.46L289.00 275.21L288.00 275.97L287.00 276.74L286.00 277.52L285.00 278.31L284.00 279.11L283.00 279.92L282.00 280.74L281.00 281.56L280.00 282.40L279.00 283.25L278.00 284.10L277.00 284.97L276.00 285.84L275.00 286.72L274.00 287.61L273.00 288.50L272.00 289.41L271.00 290.31L270.00 291.23L269.00 292.15L268.00 293.07L267.00 294.00L266.00 294.93L265.00 295.87L264.00 296.81L263.00 297.75L262.00 298.69L261.00 299.64L260.00 300.59L259.00 301.54L258.00 302.49L257.00 303.44L256.00 304.39L255.00 305.34L254.00 306.29L253.00 307.25L252.00 308.20L251.00 309.15L250.00 310.10" class="cv" stroke="#ff0000" stroke-width="1.75" stroke-dasharray="6.8 7.8" stroke-dashoffset="1.0"/>
<path d="M139.90 406.99L140.90 406.46L141.90 405.90L142.90 405.32L143.90 404.73L144.90 404.13L145.90 403.51L146.90 402.89L147.90 402.25L148.90 401.60L149.90 400.93L150.90 400.26L151.90 399.57L152.90 398.87L153.90 398.16L154.90 397.44L155.90 396.71L156.90 395.97L157.90 395.22L158.90 394.47L159.90 393.70L160.90 392.93L161.90 392.15L162.90 391.37L163.90 390.57L164.90 389.77L165.90 388.96L166.90 388.15L167.90 387.33L168.90 386.51L169.90 385.68L170.90 384.86L171.90 384.02L172.90 383.18L173.90 382.34L174.90 381.48L175.90 380.62L176.90 379.75L177.90 378.87L178.90 377.98L179.90 377.08L180.90 376.16L181.90 375.23L182.90 374.28L183.90 373.34L184.90 372.38L185.90 371.43L186.90 370.47L187.90 369.51L188.90 368.56L189.90 367.60L190.90 366.64L191.90 365.68L192.90 364.71L193.90 363.74L194.90 362.77L195.90 361.81L196.90 360.84L197.90 359.88L198.90 358.93L199.90 357.98L200.90 357.03L201.90 356.08L202.90 355.13L203.90 354.18L204.90 353.23L205.90 352.27L206.90 351.32L207.90 350.36L208.90 349.40L209.90 348.44L210.90 347.48L211.90 346.52L212.90 345.56L213.90 344.60L214.90 343.64L215.90 342.68L216.90 341.72L217.90 340.76L218.90 339.80L219.90 338.85L220.90 337.89L221.90 336.93L222.90 335.97L223.90 335.02L224.90 334.06L225.90 333.10L226.90 332.15L227.90 331.19L228.90 330.24L229.90 329.28L230.90 328.33L231.90 327.37L232.90 326.42L233.90 325.47L234.90 324.51L235.90 323.56L236.90 322.61L237.90 321.66L238.90 320.70L239.90 319.75L240.90 318.80L241.90 317.85L242.90 316.90L243.90 315.95L244.90 315.00L245.90 314.05L246.90 313.11L247.90 312.16L248.90 311.21L249.90 310.26L250.90 309.32L251.90 308.37L252.90 307.43L253.90 306.48L254.90 305.54L255.90 304.61L256.90 303.68L257.90 302.77L258.90 301.87L259.90 300.97L260.90 300.09L261.90 299.20L262.90 298.32L263.90 297.44L264.90 296.55L265.90 295.67L266.90 294.78L267.90 293.90L268.90 293.03L269.90 292.16L270.90 291.30L271.90 290.46L272.90 289.63L273.90 288.83L274.90 288.04L275.90 287.28L276.90 286.53L277.90 285.80L278.90 285.09L279.90 284.39L280.90 283.72L281.90 283.05L282.90 282.40L283.90 281.75L284.90 281.11L285.90 280.49L286.90 279.88L287.90 279.28L288.90 278.71L289.90 278.17L290.90 277.67L291.90 277.19L292.90 276.72L293.90 276.24L294.90 275.75L295.90 275.28L296.90 274.83L297.90 274.42L298.90 274.04L299.90 273.67L300.90 273.31L301.90 272.95L302.90 272.59L303.90 272.25L304.90 271.92L305.90 271.63L306.90 271.36L307.90 271.12L308.90 270.89L309.90 270.68L310.90 270.48L311.90 270.29L312.90 270.11L313.90 269.94L314.90 269.77L315.90 269.62L316.90 269.48L317.90 269.37L318.90 269.26L319.90 269.17L320.90 269.08L321.90 269.00L322.90 268.93L323.90 268.86L324.90 268.80L325.90 268.74L326.90 268.69L327.90 268.64L328.90 268.55L329.90 268.35" class="cv" stroke="#1f7f3f" stroke-width="1.55" stroke-dasharray="1.55 2.45" stroke-dashoffset="1.99"/>
<path d="M139.90 406.99L140.90 406.46L141.90 405.90L142.90 405.32L143.90 404.73L144.90 404.13L145.90 403.51L146.90 402.89L147.90 402.25L148.90 401.60L149.90 400.93L150.90 400.26L151.90 399.57L152.90 398.87L153.90 398.16L154.90 397.44L155.90 396.71L156.90 395.97L157.90 395.22L158.90 394.47L159.90 393.70L160.90 392.93L161.90 392.15L162.90 391.37L163.90 390.57L164.90 389.77L165.90 388.96L166.90 388.15L167.90 387.33L168.90 386.51L169.90 385.68L170.90 384.86L171.90 384.02L172.90 383.18L173.90 382.34L174.90 381.48L175.90 380.62L176.90 379.75L177.90 378.87L178.90 377.98L179.90 377.08L180.90 376.16L181.90 375.23L182.90 374.28L183.90 373.34L184.90 372.38L185.90 371.43L186.90 370.47L187.90 369.51L188.90 368.56L189.90 367.60L190.90 366.64L191.90 365.68L192.90 364.71L193.90 363.74L194.90 362.77L195.90 361.81L196.90 360.84L197.90 359.88L198.90 358.93L199.90 357.98L200.90 357.03L201.90 356.08L202.90 355.13L203.90 354.18L204.90 353.23L205.90 352.27L206.90 351.32L207.90 350.36L208.90 349.40L209.90 348.44L210.90 347.48L211.90 346.52L212.90 345.56L213.90 344.60L214.90 343.64L215.90 342.68L216.90 341.72L217.90 340.76L218.90 339.80L219.90 338.85L220.90 337.89L221.90 336.93L222.90 335.97L223.90 335.02L224.90 334.06L225.90 333.10L226.90 332.15L227.90 331.20L228.90 330.24L229.90 329.29L230.90 328.35L231.90 327.40L232.90 326.45L233.90 325.50L234.90 324.56L235.90 323.62L236.90 322.67L237.90 321.73L238.90 320.79L239.90 319.85L240.90 318.91L241.90 317.97L242.90 317.04L243.90 316.10L244.90 315.17L245.90 314.23L246.90 313.30L247.90 312.36L248.90 311.43L249.90 310.50L250.90 309.57L251.90 308.65L252.90 307.73L253.90 306.82L254.90 305.91L255.90 305.00L256.90 304.10L257.90 303.19L258.90 302.28L259.90 301.38L260.90 300.47L261.90 299.56L262.90 298.65L263.90 297.74L264.90 296.84L265.90 295.95L266.90 295.07L267.90 294.22L268.90 293.39L269.90 292.59L270.90 291.83L271.90 291.09L272.90 290.38L273.90 289.67L274.90 288.98L275.90 288.30L276.90 287.62L277.90 286.96L278.90 286.31L279.90 285.68L280.90 285.07L281.90 284.47L282.90 283.89L283.90 283.32L284.90 282.76L285.90 282.22L286.90 281.70L287.90 281.19L288.90 280.70L289.90 280.23L290.90 279.78L291.90 279.35L292.90 278.95L293.90 278.58L294.90 278.24L295.90 277.92L296.90 277.62L297.90 277.33L298.90 277.06L299.90 276.80L300.90 276.55L301.90 276.31L302.90 276.08L303.90 275.86L304.90 275.66L305.90 275.47L306.90 275.29L307.90 275.13L308.90 274.97L309.90 274.83L310.90 274.71L311.90 274.60L312.90 274.51L313.90 274.43L314.90 274.36L315.90 274.29L316.90 274.24L317.90 274.18L318.90 274.13L319.90 274.08L320.90 274.02L321.90 273.97L322.90 273.92L323.90 273.88L324.90 273.83L325.90 273.79L326.90 273.76L327.90 273.72L328.90 273.64L329.90 273.45" class="cv" stroke="#0000ff" stroke-width="1.8" stroke-dasharray="7.7 4.3 1.6 4.3" stroke-dashoffset="9.33"/>
<path d="M139.90 406.99L140.90 406.46L141.90 405.90L142.90 405.32L143.90 404.73L144.90 404.13L145.90 403.51L146.90 402.89L147.90 402.25L148.90 401.60L149.90 400.93L150.90 400.26L151.90 399.57L152.90 398.87L153.90 398.16L154.90 397.44L155.90 396.71L156.90 395.97L157.90 395.22L158.90 394.47L159.90 393.70L160.90 392.93L161.90 392.15L162.90 391.37L163.90 390.57L164.90 389.77L165.90 388.96L166.90 388.15L167.90 387.33L168.90 386.51L169.90 385.68L170.90 384.86L171.90 384.02L172.90 383.18L173.90 382.34L174.90 381.48L175.90 380.62L176.90 379.75L177.90 378.87L178.90 377.98L179.90 377.08L180.90 376.16L181.90 375.23L182.90 374.28L183.90 373.34L184.90 372.38L185.90 371.43L186.90 370.47L187.90 369.51L188.90 368.56L189.90 367.60L190.90 366.64L191.90 365.68L192.90 364.71L193.90 363.74L194.90 362.77L195.90 361.81L196.90 360.84L197.90 359.88L198.90 358.93L199.90 357.98L200.90 357.03L201.90 356.08L202.90 355.13L203.90 354.18L204.90 353.23L205.90 352.27L206.90 351.32L207.90 350.36L208.90 349.40L209.90 348.44L210.90 347.48L211.90 346.52L212.90 345.56L213.90 344.60L214.90 343.64L215.90 342.68L216.90 341.72L217.90 340.76L218.90 339.80L219.90 338.85L220.90 337.89L221.90 336.93L222.90 335.97L223.90 335.02L224.90 334.06L225.90 333.12L226.90 332.19L227.90 331.27L228.90 330.37L229.90 329.48L230.90 328.59L231.90 327.72L232.90 326.84L233.90 325.97L234.90 325.10L235.90 324.23L236.90 323.37L237.90 322.52L238.90 321.68L239.90 320.84L240.90 320.01L241.90 319.18L242.90 318.35L243.90 317.52L244.90 316.70L245.90 315.88L246.90 315.06L247.90 314.23L248.90 313.38L249.90 312.52L250.90 311.66L251.90 310.80L252.90 309.95L253.90 309.12L254.90 308.31L255.90 307.51L256.90 306.72L257.90 305.92L258.90 305.11L259.90 304.30L260.90 303.47L261.90 302.64L262.90 301.81L263.90 300.98L264.90 300.15L265.90 299.32L266.90 298.50L267.90 297.69L268.90 296.89L269.90 296.12L270.90 295.39L271.90 294.69L272.90 294.02L273.90 293.39L274.90 292.77L275.90 292.18L276.90 291.59L277.90 291.02L278.90 290.46L279.90 289.93L280.90 289.41L281.90 288.91L282.90 288.42L283.90 287.95L284.90 287.49L285.90 287.04L286.90 286.60L287.90 286.18L288.90 285.79L289.90 285.41L290.90 285.05L291.90 284.72L292.90 284.41L293.90 284.11L294.90 283.83L295.90 283.57L296.90 283.32L297.90 283.08L298.90 282.86L299.90 282.66L300.90 282.47L301.90 282.29L302.90 282.13L303.90 281.96L304.90 281.81L305.90 281.65L306.90 281.49L307.90 281.34L308.90 281.19L309.90 281.05L310.90 280.92L311.90 280.80L312.90 280.69L313.90 280.60L314.90 280.52L315.90 280.44L316.90 280.38L317.90 280.31L318.90 280.25L319.90 280.19L320.90 280.12L321.90 280.07L322.90 280.01L323.90 279.96L324.90 279.91L325.90 279.87L326.90 279.83L327.90 279.80L328.90 279.72L329.90 279.53" class="cv" stroke="#00ffff" stroke-width="1.8" stroke-dasharray="6 4.3 1.6 4.3 1.6 4.3" stroke-dashoffset="21.82"/>
<text x="60.70" y="273.00" class="tt">carbon dioxide</text>
<path d="M238.70 371.60h28.6" stroke="#000000" stroke-width="1.55" fill="none"/>
<text x="270.70" y="376.50" class="lg">literature</text>
<path d="M238.70 387.10h27.2" stroke="#ff0000" stroke-width="1.55" fill="none" stroke-dasharray="6.4 9"/>
<text x="270.70" y="392.00" class="lg">numerical</text>
<path d="M238.70 403.90h27.2" stroke="#1f7f3f" stroke-width="1.55" fill="none" stroke-dasharray="1.4 2.05"/>
<text x="270.70" y="408.80" class="lg">appr. <tspan class="it">O</tspan>(<tspan class="ep">ε</tspan><tspan class="ls" dy="-4.4">8</tspan><tspan dy="4.4">)</tspan></text>
<path d="M238.70 420.80h27.2" stroke="#0000ff" stroke-width="1.55" fill="none" stroke-dasharray="8.3 4.2 1.6 4.2"/>
<text x="270.70" y="425.70" class="lg">appr. <tspan class="it">O</tspan>(<tspan class="ep">ε</tspan><tspan class="ls" dy="-4.4">4</tspan><tspan dy="4.4">)</tspan></text>
<path d="M238.70 437.80h27.6" stroke="#00ffff" stroke-width="1.55" fill="none" stroke-dasharray="7 4.1 1.6 4.1 1.6 4.1"/>
<text x="270.70" y="442.70" class="lg">appr. <tspan class="it">O</tspan>(<tspan class="ep">ε</tspan><tspan class="ls" dy="-4.4">2</tspan><tspan dy="4.4">)</tspan></text>
</g>
<g id="me">
<path d="M386.46 451.80v-1.8M386.46 241.65v1.8M389.16 451.80v-1.8M389.16 241.65v1.8M391.49 451.80v-1.8M391.49 241.65v1.8M393.56 451.80v-1.8M393.56 241.65v1.8M395.40 451.80v-3.7M395.40 241.65v3.7M407.53 451.80v-1.8M407.53 241.65v1.8M414.63 451.80v-1.8M414.63 241.65v1.8M419.66 451.80v-1.8M419.66 241.65v1.8M423.57 451.80v-1.8M423.57 241.65v1.8M426.76 451.80v-1.8M426.76 241.65v1.8M429.46 451.80v-1.8M429.46 241.65v1.8M431.79 451.80v-1.8M431.79 241.65v1.8M433.86 451.80v-1.8M433.86 241.65v1.8M435.70 451.80v-3.7M435.70 241.65v3.7M447.83 451.80v-1.8M447.83 241.65v1.8M454.93 451.80v-1.8M454.93 241.65v1.8M459.96 451.80v-1.8M459.96 241.65v1.8M463.87 451.80v-1.8M463.87 241.65v1.8M467.06 451.80v-1.8M467.06 241.65v1.8M469.76 451.80v-1.8M469.76 241.65v1.8M472.09 451.80v-1.8M472.09 241.65v1.8M474.16 451.80v-1.8M474.16 241.65v1.8M476.00 451.80v-3.7M476.00 241.65v3.7M488.13 451.80v-1.8M488.13 241.65v1.8M495.23 451.80v-1.8M495.23 241.65v1.8M500.26 451.80v-1.8M500.26 241.65v1.8M504.17 451.80v-1.8M504.17 241.65v1.8M507.36 451.80v-1.8M507.36 241.65v1.8M510.06 451.80v-1.8M510.06 241.65v1.8M512.39 451.80v-1.8M512.39 241.65v1.8M514.46 451.80v-1.8M514.46 241.65v1.8M516.30 451.80v-3.7M516.30 241.65v3.7M528.43 451.80v-1.8M528.43 241.65v1.8M535.53 451.80v-1.8M535.53 241.65v1.8M540.56 451.80v-1.8M540.56 241.65v1.8M544.47 451.80v-1.8M544.47 241.65v1.8M547.66 451.80v-1.8M547.66 241.65v1.8M550.36 451.80v-1.8M550.36 241.65v1.8M552.69 451.80v-1.8M552.69 241.65v1.8M554.76 451.80v-1.8M554.76 241.65v1.8M556.60 451.80v-3.7M556.60 241.65v3.7M568.73 451.80v-1.8M568.73 241.65v1.8M575.83 451.80v-1.8M575.83 241.65v1.8M580.86 451.80v-1.8M580.86 241.65v1.8M584.77 451.80v-1.8M584.77 241.65v1.8M587.96 451.80v-1.8M587.96 241.65v1.8M590.66 451.80v-1.8M590.66 241.65v1.8M592.99 451.80v-1.8M592.99 241.65v1.8M595.06 451.80v-1.8M595.06 241.65v1.8M596.90 451.80v-3.7M596.90 241.65v3.7M609.03 451.80v-1.8M609.03 241.65v1.8M616.13 451.80v-1.8M616.13 241.65v1.8M621.16 451.80v-1.8M621.16 241.65v1.8M625.07 451.80v-1.8M625.07 241.65v1.8M628.26 451.80v-1.8M628.26 241.65v1.8M630.96 451.80v-1.8M630.96 241.65v1.8M633.29 451.80v-1.8M633.29 241.65v1.8M635.36 451.80v-1.8M635.36 241.65v1.8M637.20 451.80v-3.7M637.20 241.65v3.7M649.33 451.80v-1.8M649.33 241.65v1.8M656.43 451.80v-1.8M656.43 241.65v1.8M661.46 451.80v-1.8M661.46 241.65v1.8M665.37 451.80v-1.8M665.37 241.65v1.8M668.56 451.80v-1.8M668.56 241.65v1.8M671.26 451.80v-1.8M671.26 241.65v1.8M673.59 451.80v-1.8M673.59 241.65v1.8M675.66 451.80v-1.8M675.66 241.65v1.8M677.50 451.80v-3.7M677.50 241.65v3.7M383.40 446.05h1.8M684.60 446.05h-1.8M383.40 442.69h1.8M684.60 442.69h-1.8M383.40 440.30h1.8M684.60 440.30h-1.8M383.40 438.45h1.8M684.60 438.45h-1.8M383.40 436.94h1.8M684.60 436.94h-1.8M383.40 435.66h1.8M684.60 435.66h-1.8M383.40 434.55h1.8M684.60 434.55h-1.8M383.40 433.57h1.8M684.60 433.57h-1.8M383.40 432.70h3.6M684.60 432.70h-3.6M383.40 426.95h1.8M684.60 426.95h-1.8M383.40 423.59h1.8M684.60 423.59h-1.8M383.40 421.20h1.8M684.60 421.20h-1.8M383.40 419.35h1.8M684.60 419.35h-1.8M383.40 417.84h1.8M684.60 417.84h-1.8M383.40 416.56h1.8M684.60 416.56h-1.8M383.40 415.45h1.8M684.60 415.45h-1.8M383.40 414.47h1.8M684.60 414.47h-1.8M383.40 413.60h3.6M684.60 413.60h-3.6M383.40 407.85h1.8M684.60 407.85h-1.8M383.40 404.49h1.8M684.60 404.49h-1.8M383.40 402.10h1.8M684.60 402.10h-1.8M383.40 400.25h1.8M684.60 400.25h-1.8M383.40 398.74h1.8M684.60 398.74h-1.8M383.40 397.46h1.8M684.60 397.46h-1.8M383.40 396.35h1.8M684.60 396.35h-1.8M383.40 395.37h1.8M684.60 395.37h-1.8M383.40 394.50h3.6M684.60 394.50h-3.6M383.40 388.75h1.8M684.60 388.75h-1.8M383.40 385.39h1.8M684.60 385.39h-1.8M383.40 383.00h1.8M684.60 383.00h-1.8M383.40 381.15h1.8M684.60 381.15h-1.8M383.40 379.64h1.8M684.60 379.64h-1.8M383.40 378.36h1.8M684.60 378.36h-1.8M383.40 377.25h1.8M684.60 377.25h-1.8M383.40 376.27h1.8M684.60 376.27h-1.8M383.40 375.40h3.6M684.60 375.40h-3.6M383.40 369.65h1.8M684.60 369.65h-1.8M383.40 366.29h1.8M684.60 366.29h-1.8M383.40 363.90h1.8M684.60 363.90h-1.8M383.40 362.05h1.8M684.60 362.05h-1.8M383.40 360.54h1.8M684.60 360.54h-1.8M383.40 359.26h1.8M684.60 359.26h-1.8M383.40 358.15h1.8M684.60 358.15h-1.8M383.40 357.17h1.8M684.60 357.17h-1.8M383.40 356.30h3.6M684.60 356.30h-3.6M383.40 350.55h1.8M684.60 350.55h-1.8M383.40 347.19h1.8M684.60 347.19h-1.8M383.40 344.80h1.8M684.60 344.80h-1.8M383.40 342.95h1.8M684.60 342.95h-1.8M383.40 341.44h1.8M684.60 341.44h-1.8M383.40 340.16h1.8M684.60 340.16h-1.8M383.40 339.05h1.8M684.60 339.05h-1.8M383.40 338.07h1.8M684.60 338.07h-1.8M383.40 337.20h3.6M684.60 337.20h-3.6M383.40 331.45h1.8M684.60 331.45h-1.8M383.40 328.09h1.8M684.60 328.09h-1.8M383.40 325.70h1.8M684.60 325.70h-1.8M383.40 323.85h1.8M684.60 323.85h-1.8M383.40 322.34h1.8M684.60 322.34h-1.8M383.40 321.06h1.8M684.60 321.06h-1.8M383.40 319.95h1.8M684.60 319.95h-1.8M383.40 318.97h1.8M684.60 318.97h-1.8M383.40 318.10h3.6M684.60 318.10h-3.6M383.40 312.35h1.8M684.60 312.35h-1.8M383.40 308.99h1.8M684.60 308.99h-1.8M383.40 306.60h1.8M684.60 306.60h-1.8M383.40 304.75h1.8M684.60 304.75h-1.8M383.40 303.24h1.8M684.60 303.24h-1.8M383.40 301.96h1.8M684.60 301.96h-1.8M383.40 300.85h1.8M684.60 300.85h-1.8M383.40 299.87h1.8M684.60 299.87h-1.8M383.40 299.00h3.6M684.60 299.00h-3.6M383.40 293.25h1.8M684.60 293.25h-1.8M383.40 289.89h1.8M684.60 289.89h-1.8M383.40 287.50h1.8M684.60 287.50h-1.8M383.40 285.65h1.8M684.60 285.65h-1.8M383.40 284.14h1.8M684.60 284.14h-1.8M383.40 282.86h1.8M684.60 282.86h-1.8M383.40 281.75h1.8M684.60 281.75h-1.8M383.40 280.77h1.8M684.60 280.77h-1.8M383.40 279.90h3.6M684.60 279.90h-3.6M383.40 274.15h1.8M684.60 274.15h-1.8M383.40 270.79h1.8M684.60 270.79h-1.8M383.40 268.40h1.8M684.60 268.40h-1.8M383.40 266.55h1.8M684.60 266.55h-1.8M383.40 265.04h1.8M684.60 265.04h-1.8M383.40 263.76h1.8M684.60 263.76h-1.8M383.40 262.65h1.8M684.60 262.65h-1.8M383.40 261.67h1.8M684.60 261.67h-1.8M383.40 260.80h3.6M684.60 260.80h-3.6M383.40 255.05h1.8M684.60 255.05h-1.8M383.40 251.69h1.8M684.60 251.69h-1.8M383.40 249.30h1.8M684.60 249.30h-1.8M383.40 247.45h1.8M684.60 247.45h-1.8M383.40 245.94h1.8M684.60 245.94h-1.8M383.40 244.66h1.8M684.60 244.66h-1.8M383.40 243.55h1.8M684.60 243.55h-1.8M383.40 242.57h1.8M684.60 242.57h-1.8" stroke="#000" stroke-width="0.85" fill="none"/>
<rect x="383.40" y="241.65" width="301.20" height="210.15" fill="none" stroke="#000" stroke-width="0.78"/>
<text transform="translate(395.30 466.25) scale(1 1.09)" text-anchor="middle" class="tk">10<tspan class="sp" dy="-3.55" dx="-0.5">-3</tspan></text>
<text transform="translate(435.60 466.25) scale(1 1.09)" text-anchor="middle" class="tk">10<tspan class="sp" dy="-3.55" dx="-0.5">-2</tspan></text>
<text transform="translate(475.90 466.25) scale(1 1.09)" text-anchor="middle" class="tk">10<tspan class="sp" dy="-3.55" dx="-0.5">-1</tspan></text>
<text transform="translate(516.70 466.25) scale(1 1.09)" text-anchor="middle" class="tk">10<tspan class="sp" dy="-3.55" dx="-0.6">0</tspan></text>
<text transform="translate(557.00 466.25) scale(1 1.09)" text-anchor="middle" class="tk">10<tspan class="sp" dy="-3.55" dx="-0.6">1</tspan></text>
<text transform="translate(597.30 466.25) scale(1 1.09)" text-anchor="middle" class="tk">10<tspan class="sp" dy="-3.55" dx="-0.6">2</tspan></text>
<text transform="translate(637.60 466.25) scale(1 1.09)" text-anchor="middle" class="tk">10<tspan class="sp" dy="-3.55" dx="-0.6">3</tspan></text>
<text transform="translate(677.90 466.25) scale(1 1.09)" text-anchor="middle" class="tk">10<tspan class="sp" dy="-3.55" dx="-0.6">4</tspan></text>
<text transform="translate(378.90 455.80) scale(1 1.09)" text-anchor="end" class="tk">10<tspan class="sp" dy="-3.55" dx="-0.5">-5</tspan></text>
<text transform="translate(378.90 436.70) scale(1 1.09)" text-anchor="end" class="tk">10<tspan class="sp" dy="-3.55" dx="-0.5">-4</tspan></text>
<text transform="translate(378.90 417.60) scale(1 1.09)" text-anchor="end" class="tk">10<tspan class="sp" dy="-3.55" dx="-0.5">-3</tspan></text>
<text transform="translate(378.90 398.50) scale(1 1.09)" text-anchor="end" class="tk">10<tspan class="sp" dy="-3.55" dx="-0.5">-2</tspan></text>
<text transform="translate(378.90 379.40) scale(1 1.09)" text-anchor="end" class="tk">10<tspan class="sp" dy="-3.55" dx="-0.5">-1</tspan></text>
<text transform="translate(378.90 360.30) scale(1 1.09)" text-anchor="end" class="tk">10<tspan class="sp" dy="-3.55" dx="-0.6">0</tspan></text>
<text transform="translate(378.90 341.20) scale(1 1.09)" text-anchor="end" class="tk">10<tspan class="sp" dy="-3.55" dx="-0.6">1</tspan></text>
<text transform="translate(378.90 322.10) scale(1 1.09)" text-anchor="end" class="tk">10<tspan class="sp" dy="-3.55" dx="-0.6">2</tspan></text>
<text transform="translate(378.90 303.00) scale(1 1.09)" text-anchor="end" class="tk">10<tspan class="sp" dy="-3.55" dx="-0.6">3</tspan></text>
<text transform="translate(378.90 283.90) scale(1 1.09)" text-anchor="end" class="tk">10<tspan class="sp" dy="-3.55" dx="-0.6">4</tspan></text>
<text transform="translate(378.90 264.80) scale(1 1.09)" text-anchor="end" class="tk">10<tspan class="sp" dy="-3.55" dx="-0.6">5</tspan></text>
<text transform="translate(378.90 245.70) scale(1 1.09)" text-anchor="end" class="tk">10<tspan class="sp" dy="-3.55" dx="-0.6">6</tspan></text>
<path d="M395.00 439.26L396.00 438.73L397.00 438.22L398.00 437.71L399.00 437.22L400.00 436.74L401.00 436.26L402.00 435.80L403.00 435.35L404.00 434.90L405.00 434.47L406.00 434.05L407.00 433.63L408.00 433.22L409.00 432.82L410.00 432.43L411.00 432.05L412.00 431.67L413.00 431.31L414.00 430.94L415.00 430.59L416.00 430.24L417.00 429.90L418.00 429.56L419.00 429.23L420.00 428.91L421.00 428.59L422.00 428.28L423.00 427.97L424.00 427.66L425.00 427.36L426.00 427.07L427.00 426.77L428.00 426.48L429.00 426.20L430.00 425.91L431.00 425.63L432.00 425.35L433.00 425.08L434.00 424.80L435.00 424.53L436.00 424.26L437.00 423.99L438.00 423.72L439.00 423.45L440.00 423.18L441.00 422.92L442.00 422.65L443.00 422.38L444.00 422.11L445.00 421.84L446.00 421.57L447.00 421.30L448.00 421.02L449.00 420.75L450.00 420.47L451.00 420.19L452.00 419.91L453.00 419.62L454.00 419.33L455.00 419.04L456.00 418.74L457.00 418.44L458.00 418.13L459.00 417.83L460.00 417.51L461.00 417.19L462.00 416.87L463.00 416.54L464.00 416.20L465.00 415.86L466.00 415.51L467.00 415.16L468.00 414.80L469.00 414.43L470.00 414.06L471.00 413.67L472.00 413.28L473.00 412.88L474.00 412.48L475.00 412.06L476.00 411.64L477.00 411.20L478.00 410.76L479.00 410.31L480.00 409.85L481.00 409.37L482.00 408.89L483.00 408.40L484.00 407.89L485.00 407.38L486.00 406.85L487.00 406.31L488.00 405.77L489.00 405.21L490.00 404.64L491.00 404.06L492.00 403.47L493.00 402.87L494.00 402.26L495.00 401.64L496.00 401.02L497.00 400.38L498.00 399.73L499.00 399.08L500.00 398.42L501.00 397.74L502.00 397.07L503.00 396.38L504.00 395.68L505.00 394.98L506.00 394.27L507.00 393.56L508.00 392.83L509.00 392.10L510.00 391.36L511.00 390.62L512.00 389.87L513.00 389.12L514.00 388.36L515.00 387.59L516.00 386.82L517.00 386.04L518.00 385.26L519.00 384.47L520.00 383.68L521.00 382.88L522.00 382.08L523.00 381.28L524.00 380.47L525.00 379.66L526.00 378.84L527.00 378.03L528.00 377.20L529.00 376.38L530.00 375.55L531.00 374.72L532.00 373.89L533.00 373.06L534.00 372.22L535.00 371.39L536.00 370.55L537.00 369.71L538.00 368.86L539.00 368.02L540.00 367.17L541.00 366.33L542.00 365.48L543.00 364.63L544.00 363.78L545.00 362.93L546.00 362.07L547.00 361.22L548.00 360.36L549.00 359.50L550.00 358.64L551.00 357.78L552.00 356.92L553.00 356.06L554.00 355.20L555.00 354.34L556.00 353.47L557.00 352.61L558.00 351.74L559.00 350.87L560.00 350.01L561.00 349.14L562.00 348.27L563.00 347.40L564.00 346.53L565.00 345.66L566.00 344.79L567.00 343.92L568.00 343.04L569.00 342.17L570.00 341.30L571.00 340.43L572.00 339.55L573.00 338.68L574.00 337.81L575.00 336.93L576.00 336.06L577.00 335.19L578.00 334.31L579.00 333.44L580.00 332.57L581.00 331.70L582.00 330.83L583.00 329.96L584.00 329.09L585.00 328.22L586.00 327.35L587.00 326.49L588.00 325.63L589.00 324.76L590.00 323.90L591.00 323.05L592.00 322.19L593.00 321.33L594.00 320.48L595.00 319.63L596.00 318.79L597.00 317.94L598.00 317.10L599.00 316.26L600.00 315.42L601.00 314.59L602.00 313.76L603.00 312.93L604.00 312.11L605.00 311.29L606.00 310.47L607.00 309.66L608.00 308.85L609.00 308.05L610.00 307.25L611.00 306.45L612.00 305.66L613.00 304.87L614.00 304.09L615.00 303.31L616.00 302.54L617.00 301.77L618.00 301.01L619.00 300.25L620.00 299.50L621.00 298.75L622.00 298.01L623.00 297.27L624.00 296.54L625.00 295.81L626.00 295.09L627.00 294.38L628.00 293.67L629.00 292.96L630.00 292.27L631.00 291.58L632.00 290.89L633.00 290.21L634.00 289.54L635.00 288.88L636.00 288.22L637.00 287.57L638.00 286.92L639.00 286.28L640.00 285.65L641.00 285.02L642.00 284.40L643.00 283.79L644.00 283.18L645.00 282.57L646.00 281.98L647.00 281.39L648.00 280.80L649.00 280.22L650.00 279.64L651.00 279.07L652.00 278.51L653.00 277.95L654.00 277.39L655.00 276.85L656.00 276.30L657.00 275.76L658.00 275.23L659.00 274.70L660.00 274.17L661.00 273.65L662.00 273.13L663.00 272.62L664.00 272.11L665.00 271.61L666.00 271.11L667.00 270.62L668.00 270.12L669.00 269.64L670.00 269.15L671.00 268.67L672.00 268.20L673.00 267.72L674.00 267.25L675.00 266.79L676.00 266.33L677.00 265.87" class="cv" stroke="#000000" stroke-width="1.65"/>
<path d="M484.60 408.40L485.30 408.11L485.99 407.80L486.68 407.49L487.35 407.16L488.02 406.81L488.68 406.46L489.34 406.09L489.98 405.71L490.61 405.31L491.24 404.90L491.86 404.47L492.47 404.03L493.08 403.58L493.69 403.13L494.29 402.68L494.89 402.23L495.48 401.76L496.07 401.29L496.66 400.82L497.26 400.37L497.88 399.95L498.52 399.54L499.15 399.13L499.77 398.72L500.40 398.30L501.40 397.62L502.40 396.94L503.40 396.25L504.40 395.55L505.40 394.85L506.40 394.14L507.40 393.42L508.40 392.69L509.40 391.96L510.40 391.22L511.40 390.47L512.40 389.72L513.40 388.96L514.40 388.20L515.40 387.43L516.40 386.66L517.40 385.88L518.40 385.09L519.40 384.30L520.40 383.51L521.40 382.71L522.40 381.91L523.40 381.11L524.40 380.30L525.40 379.48L526.40 378.67L527.40 377.85L528.40 377.02L529.40 376.20L530.40 375.37L531.40 374.54L532.40 373.71L533.40 372.87L534.40 372.04L535.40 371.20L536.40 370.36L537.40 369.52L538.40 368.68L539.40 367.83L540.40 366.99L541.40 366.14L542.40 365.29L543.40 364.44L544.40 363.59L545.40 362.73L546.40 361.88L547.40 361.02L548.40 360.17L549.40 359.31L550.40 358.45L551.40 357.59L552.40 356.73L553.40 355.87L554.40 355.00L555.40 354.14L556.40 353.28L557.40 352.41L558.40 351.54L559.40 350.68L560.40 349.81L561.40 348.94L562.40 348.07L563.40 347.20L564.40 346.33L565.40 345.46L566.40 344.59L567.40 343.72L568.40 342.84L569.40 341.97L570.40 341.10L571.40 340.23L572.40 339.35L573.40 338.48L574.40 337.61L575.40 336.73L576.40 335.86L577.40 334.99L578.40 334.11L579.40 333.24L580.40 332.37L581.40 331.50L582.40 330.63L583.40 329.76L584.40 328.89L585.40 328.02L586.40 327.16L587.40 326.29L588.40 325.43L589.40 324.57L590.40 323.71L591.40 322.85L592.40 322.00L593.40 321.14L594.40 320.29" class="cv" stroke="#ff0000" stroke-width="1.75" stroke-dasharray="6.8 7.8"/>
<path d="M677.90 263.90L677.30 264.36L676.69 264.81L676.07 265.25L675.45 265.69L674.83 266.11L674.19 266.52L673.54 266.92L672.90 267.31L672.26 267.72L671.65 268.17L671.06 268.65L670.44 269.08L669.77 269.42L669.08 269.75L668.40 270.08L667.40 270.57L666.40 271.06L665.40 271.56L664.40 272.06L663.40 272.57L662.40 273.08L661.40 273.59L660.40 274.11L659.40 274.64L658.40 275.16L657.40 275.70L656.40 276.23L655.40 276.78L654.40 277.32L653.40 277.88L652.40 278.43L651.40 279.00L650.40 279.56L649.40 280.14L648.40 280.72L647.40 281.30L646.40 281.89L645.40 282.49L644.40 283.09L643.40 283.69L642.40 284.31L641.40 284.92L640.40 285.55L639.40 286.18L638.40 286.82L637.40 287.46L636.40 288.11L635.40 288.76L634.40 289.43L633.40 290.10L632.40 290.77L631.40 291.45L630.40 292.14L629.40 292.84L628.40 293.54L627.40 294.24L626.40 294.95L625.40 295.67L624.40 296.40L623.40 297.13L622.40 297.86L621.40 298.60L620.40 299.35L619.40 300.10L618.40 300.85L617.40 301.62L616.40 302.38L615.40 303.15L614.40 303.93L613.40 304.71L612.40 305.50L611.40 306.29L610.40 307.08L609.40 307.88L608.40 308.68L607.40 309.49L606.40 310.30L605.40 311.11L604.40 311.93L603.40 312.75L602.40 313.58L601.40 314.41L600.40 315.24L599.40 316.07L598.40 316.91L597.40 317.75L596.40 318.60L595.40 319.44L594.40 320.29" class="cv" stroke="#ff0000" stroke-width="1.75" stroke-dasharray="6.8 7.8" stroke-dashoffset="1.0"/>
<path d="M484.60 409.95L485.60 409.38L486.60 408.78L487.60 408.16L488.60 407.53L489.60 406.90L490.60 406.25L491.60 405.60L492.60 404.93L493.60 404.26L494.60 403.58L495.60 402.89L496.60 402.19L497.60 401.48L498.60 400.76L499.60 400.03L500.60 399.30L501.60 398.57L502.60 397.83L503.60 397.09L504.60 396.35L505.60 395.61L506.60 394.86L507.60 394.10L508.60 393.35L509.60 392.58L510.60 391.82L511.60 391.04L512.60 390.26L513.60 389.47L514.60 388.68L515.60 387.88L516.60 387.07L517.60 386.26L518.60 385.44L519.60 384.62L520.60 383.79L521.60 382.96L522.60 382.13L523.60 381.30L524.60 380.46L525.60 379.63L526.60 378.79L527.60 377.94L528.60 377.10L529.60 376.25L530.60 375.40L531.60 374.56L532.60 373.71L533.60 372.86L534.60 372.01L535.60 371.16L536.60 370.31L537.60 369.45L538.60 368.60L539.60 367.74L540.60 366.89L541.60 366.03L542.60 365.18L543.60 364.32L544.60 363.47L545.60 362.61L546.60 361.76L547.60 360.90L548.60 360.05L549.60 359.19L550.60 358.33L551.60 357.47L552.60 356.61L553.60 355.74L554.60 354.88L555.60 354.02L556.60 353.15L557.60 352.29L558.60 351.42L559.60 350.55L560.60 349.68L561.60 348.82L562.60 347.95L563.60 347.08L564.60 346.21L565.60 345.34L566.60 344.46L567.60 343.59L568.60 342.72L569.60 341.85L570.60 340.98L571.60 340.10L572.60 339.23L573.60 338.36L574.60 337.48L575.60 336.61L576.60 335.74L577.60 334.87L578.60 334.00L579.60 333.13L580.60 332.26L581.60 331.39L582.60 330.52L583.60 329.66L584.60 328.79L585.60 327.93L586.60 327.06L587.60 326.20L588.60 325.35L589.60 324.49L590.60 323.63L591.60 322.78L592.60 321.93L593.60 321.08L594.60 320.24L595.60 319.40L596.60 318.56L597.60 317.72L598.60 316.89L599.60 316.06L600.60 315.24L601.60 314.43L602.60 313.63L603.60 312.84L604.60 312.06L605.60 311.29L606.60 310.53L607.60 309.77L608.60 309.01L609.60 308.25L610.60 307.49L611.60 306.73L612.60 305.97L613.60 305.21L614.60 304.46L615.60 303.71L616.60 302.97L617.60 302.23L618.60 301.50L619.60 300.78L620.60 300.07L621.60 299.36L622.60 298.68L623.60 298.01L624.60 297.36L625.60 296.74L626.60 296.17L627.60 295.64L628.60 295.15L629.60 294.67L630.60 294.17L631.60 293.66L632.60 293.16L633.60 292.67L634.60 292.22L635.60 291.80L636.60 291.39L637.60 290.99L638.60 290.57L639.60 290.16L640.60 289.75L641.60 289.36L642.60 289.00L643.60 288.65L644.60 288.32L645.60 288.00L646.60 287.70L647.60 287.40L648.60 287.12L649.60 286.86L650.60 286.60L651.60 286.36L652.60 286.13L653.60 285.91L654.60 285.71L655.60 285.51L656.60 285.34L657.60 285.18L658.60 285.06L659.60 284.97L660.60 284.88L661.60 284.80L662.60 284.70L663.60 284.60L664.60 284.50L665.60 284.42L666.60 284.35L667.60 284.30L668.60 284.25L669.60 284.20L670.60 284.15L671.60 284.10L672.60 284.05L673.60 283.96L674.60 283.78" class="cv" stroke="#1f7f3f" stroke-width="1.55" stroke-dasharray="1.55 2.45" stroke-dashoffset="1.34"/>
<path d="M484.60 409.95L485.60 409.38L486.60 408.78L487.60 408.16L488.60 407.53L489.60 406.90L490.60 406.25L491.60 405.60L492.60 404.93L493.60 404.26L494.60 403.58L495.60 402.89L496.60 402.19L497.60 401.48L498.60 400.76L499.60 400.03L500.60 399.30L501.60 398.57L502.60 397.83L503.60 397.09L504.60 396.35L505.60 395.61L506.60 394.86L507.60 394.10L508.60 393.35L509.60 392.58L510.60 391.82L511.60 391.04L512.60 390.26L513.60 389.47L514.60 388.68L515.60 387.88L516.60 387.07L517.60 386.26L518.60 385.44L519.60 384.62L520.60 383.79L521.60 382.96L522.60 382.13L523.60 381.30L524.60 380.46L525.60 379.63L526.60 378.79L527.60 377.94L528.60 377.10L529.60 376.25L530.60 375.40L531.60 374.56L532.60 373.71L533.60 372.86L534.60 372.01L535.60 371.16L536.60 370.31L537.60 369.45L538.60 368.60L539.60 367.74L540.60 366.89L541.60 366.03L542.60 365.18L543.60 364.32L544.60 363.47L545.60 362.61L546.60 361.76L547.60 360.90L548.60 360.05L549.60 359.19L550.60 358.33L551.60 357.47L552.60 356.61L553.60 355.74L554.60 354.88L555.60 354.02L556.60 353.15L557.60 352.29L558.60 351.42L559.60 350.55L560.60 349.68L561.60 348.82L562.60 347.95L563.60 347.08L564.60 346.21L565.60 345.34L566.60 344.46L567.60 343.59L568.60 342.72L569.60 341.85L570.60 340.98L571.60 340.10L572.60 339.23L573.60 338.36L574.60 337.50L575.60 336.63L576.60 335.76L577.60 334.90L578.60 334.03L579.60 333.17L580.60 332.31L581.60 331.45L582.60 330.59L583.60 329.74L584.60 328.89L585.60 328.03L586.60 327.18L587.60 326.34L588.60 325.49L589.60 324.65L590.60 323.80L591.60 322.97L592.60 322.13L593.60 321.30L594.60 320.47L595.60 319.64L596.60 318.82L597.60 318.01L598.60 317.20L599.60 316.41L600.60 315.61L601.60 314.83L602.60 314.05L603.60 313.27L604.60 312.50L605.60 311.73L606.60 310.97L607.60 310.21L608.60 309.46L609.60 308.72L610.60 307.98L611.60 307.26L612.60 306.54L613.60 305.82L614.60 305.12L615.60 304.43L616.60 303.74L617.60 303.07L618.60 302.41L619.60 301.77L620.60 301.15L621.60 300.54L622.60 299.94L623.60 299.36L624.60 298.80L625.60 298.26L626.60 297.74L627.60 297.25L628.60 296.79L629.60 296.34L630.60 295.92L631.60 295.52L632.60 295.12L633.60 294.74L634.60 294.36L635.60 294.00L636.60 293.65L637.60 293.31L638.60 292.99L639.60 292.67L640.60 292.38L641.60 292.09L642.60 291.81L643.60 291.55L644.60 291.29L645.60 291.05L646.60 290.82L647.60 290.60L648.60 290.39L649.60 290.20L650.60 290.01L651.60 289.84L652.60 289.67L653.60 289.52L654.60 289.38L655.60 289.25L656.60 289.14L657.60 289.03L658.60 288.93L659.60 288.84L660.60 288.76L661.60 288.68L662.60 288.61L663.60 288.55L664.60 288.50L665.60 288.45L666.60 288.42L667.60 288.38L668.60 288.35L669.60 288.33L670.60 288.31L671.60 288.29L672.60 288.27L673.60 288.21L674.60 288.05" class="cv" stroke="#0000ff" stroke-width="1.8" stroke-dasharray="7.7 4.3 1.6 4.3" stroke-dashoffset="9.46"/>
<path d="M484.60 409.95L485.60 409.38L486.60 408.78L487.60 408.16L488.60 407.53L489.60 406.90L490.60 406.25L491.60 405.60L492.60 404.93L493.60 404.26L494.60 403.58L495.60 402.89L496.60 402.19L497.60 401.48L498.60 400.76L499.60 400.03L500.60 399.30L501.60 398.57L502.60 397.83L503.60 397.09L504.60 396.35L505.60 395.61L506.60 394.86L507.60 394.10L508.60 393.35L509.60 392.58L510.60 391.82L511.60 391.04L512.60 390.26L513.60 389.47L514.60 388.68L515.60 387.88L516.60 387.07L517.60 386.26L518.60 385.44L519.60 384.62L520.60 383.79L521.60 382.96L522.60 382.13L523.60 381.30L524.60 380.46L525.60 379.63L526.60 378.79L527.60 377.94L528.60 377.10L529.60 376.25L530.60 375.40L531.60 374.56L532.60 373.71L533.60 372.86L534.60 372.01L535.60 371.16L536.60 370.31L537.60 369.45L538.60 368.60L539.60 367.74L540.60 366.89L541.60 366.03L542.60 365.18L543.60 364.32L544.60 363.47L545.60 362.61L546.60 361.76L547.60 360.90L548.60 360.05L549.60 359.19L550.60 358.33L551.60 357.47L552.60 356.61L553.60 355.74L554.60 354.88L555.60 354.02L556.60 353.15L557.60 352.29L558.60 351.42L559.60 350.55L560.60 349.68L561.60 348.82L562.60 347.95L563.60 347.08L564.60 346.21L565.60 345.34L566.60 344.46L567.60 343.59L568.60 342.72L569.60 341.85L570.60 340.99L571.60 340.14L572.60 339.30L573.60 338.48L574.60 337.67L575.60 336.87L576.60 336.07L577.60 335.28L578.60 334.48L579.60 333.69L580.60 332.89L581.60 332.11L582.60 331.32L583.60 330.54L584.60 329.77L585.60 329.00L586.60 328.24L587.60 327.47L588.60 326.71L589.60 325.94L590.60 325.18L591.60 324.41L592.60 323.64L593.60 322.87L594.60 322.10L595.60 321.33L596.60 320.57L597.60 319.81L598.60 319.06L599.60 318.32L600.60 317.58L601.60 316.85L602.60 316.12L603.60 315.40L604.60 314.68L605.60 313.96L606.60 313.24L607.60 312.52L608.60 311.80L609.60 311.08L610.60 310.37L611.60 309.70L612.60 309.07L613.60 308.49L614.60 307.94L615.60 307.39L616.60 306.85L617.60 306.31L618.60 305.76L619.60 305.22L620.60 304.68L621.60 304.16L622.60 303.65L623.60 303.16L624.60 302.68L625.60 302.21L626.60 301.76L627.60 301.32L628.60 300.89L629.60 300.49L630.60 300.10L631.60 299.73L632.60 299.38L633.60 299.05L634.60 298.74L635.60 298.44L636.60 298.15L637.60 297.88L638.60 297.63L639.60 297.39L640.60 297.16L641.60 296.95L642.60 296.74L643.60 296.53L644.60 296.33L645.60 296.13L646.60 295.94L647.60 295.75L648.60 295.58L649.60 295.41L650.60 295.26L651.60 295.13L652.60 295.00L653.60 294.89L654.60 294.79L655.60 294.70L656.60 294.62L657.60 294.55L658.60 294.48L659.60 294.42L660.60 294.36L661.60 294.32L662.60 294.28L663.60 294.24L664.60 294.21L665.60 294.17L666.60 294.14L667.60 294.11L668.60 294.08L669.60 294.06L670.60 294.03L671.60 294.02L672.60 294.00L673.60 294.00L674.60 293.94L675.60 293.79" class="cv" stroke="#00ffff" stroke-width="1.8" stroke-dasharray="6 4.3 1.6 4.3 1.6 4.3" stroke-dashoffset="19.67"/>
<text x="404.40" y="271.65" class="tt">methane</text>
<path d="M585.00 373.30h28.6" stroke="#000000" stroke-width="1.55" fill="none"/>
<text x="617.00" y="378.20" class="lg">literature</text>
<path d="M585.00 388.80h27.2" stroke="#ff0000" stroke-width="1.55" fill="none" stroke-dasharray="6.4 9"/>
<text x="617.00" y="393.70" class="lg">numerical</text>
<path d="M585.00 405.60h27.2" stroke="#1f7f3f" stroke-width="1.55" fill="none" stroke-dasharray="1.4 2.05"/>
<text x="617.00" y="410.50" class="lg">appr. <tspan class="it">O</tspan>(<tspan class="ep">ε</tspan><tspan class="ls" dy="-4.4">8</tspan><tspan dy="4.4">)</tspan></text>
<path d="M585.00 422.50h27.2" stroke="#0000ff" stroke-width="1.55" fill="none" stroke-dasharray="8.3 4.2 1.6 4.2"/>
<text x="617.00" y="427.40" class="lg">appr. <tspan class="it">O</tspan>(<tspan class="ep">ε</tspan><tspan class="ls" dy="-4.4">4</tspan><tspan dy="4.4">)</tspan></text>
<path d="M585.00 439.50h27.6" stroke="#00ffff" stroke-width="1.55" fill="none" stroke-dasharray="7 4.1 1.6 4.1 1.6 4.1"/>
<text x="617.00" y="444.40" class="lg">appr. <tspan class="it">O</tspan>(<tspan class="ep">ε</tspan><tspan class="ls" dy="-4.4">2</tspan><tspan dy="4.4">)</tspan></text>
</g>
<text class="ax ay" transform="translate(10.4 105.0) rotate(-90)" text-anchor="middle">R(m)</text>
<text class="ax ay" transform="translate(10.4 346.1) rotate(-90)" text-anchor="middle">R(m)</text>
<text class="ax" x="189.2" y="485.4" text-anchor="middle">E<tspan class="sb" dy="3.5">0</tspan><tspan dy="-3.5">(MeV)</tspan></text>
<text class="ax" x="534.2" y="485.4" text-anchor="middle">E<tspan class="sb" dy="3.5">0</tspan><tspan dy="-3.5">(MeV)</tspan></text>
</g></svg></body></html>
